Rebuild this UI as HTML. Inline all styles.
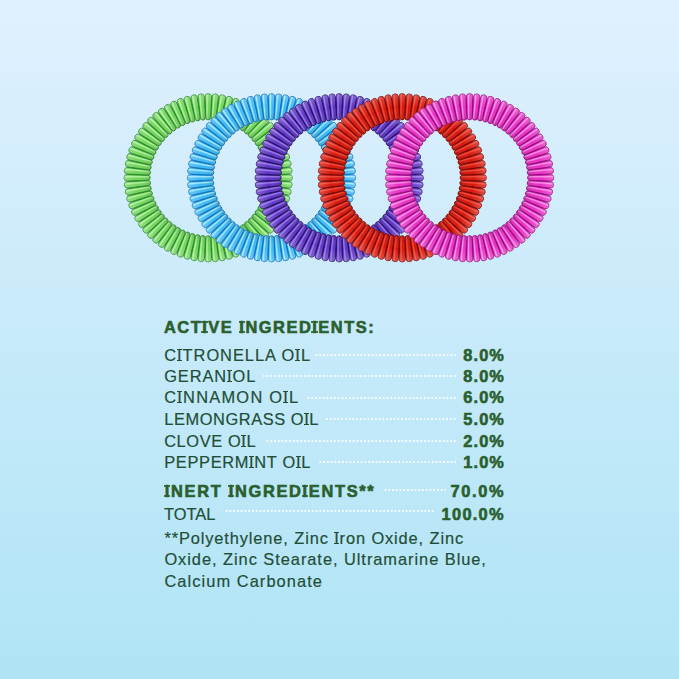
<!DOCTYPE html>
<html><head><meta charset="utf-8"><style>
html,body{margin:0;padding:0;}
body{width:679px;height:679px;overflow:hidden;position:relative;
background:linear-gradient(180deg,#e0f0fe 0%,#c7eafa 50%,#afe4f5 100%);
font-family:"Liberation Sans",sans-serif;}
.t{position:absolute;font-size:16.4px;line-height:16.4px;white-space:nowrap;color:#224e37;-webkit-text-stroke:0.2px #224e37;}
.b{font-weight:bold;color:#2a5f2e;-webkit-text-stroke:0.6px #2a5f2e;}
.I{position:relative;}
.I::before,.I::after{content:"";position:absolute;left:calc(0.139em - 2.6px);width:5.2px;height:1.3px;background:currentColor;}
.I::before{top:var(--st);}
.I::after{top:var(--sb);}
.b .I::before,.b .I::after{left:calc(0.139em - 3.1px);width:6.2px;height:2px;opacity:.85;}
.ld{position:absolute;height:2px;background:radial-gradient(circle at 2.8px 1px,rgba(255,255,255,.8) 0.85px,rgba(255,255,255,0) 1.25px) right center/3.75px 2px repeat-x;}
</style></head><body>
<svg width="679" height="300" viewBox="0 0 679 300" style="position:absolute;left:0;top:0"><defs><linearGradient id="ov" x1="0" y1="0" x2="0" y2="1"><stop offset="0" stop-color="#fff" stop-opacity="0.22"/><stop offset="0.5" stop-color="#fff" stop-opacity="0"/><stop offset="1" stop-color="#000" stop-opacity="0.12"/></linearGradient><linearGradient id="ggA" x1="0" y1="0" x2="1" y2="0"><stop offset="0" stop-color="#2a8a2e"/><stop offset="0.14" stop-color="#72d45c"/><stop offset="0.32" stop-color="#b4f49e"/><stop offset="0.55" stop-color="#72d45c"/><stop offset="0.86" stop-color="#72d45c"/><stop offset="1" stop-color="#2a8a2e"/></linearGradient><linearGradient id="ggB" x1="0" y1="0" x2="1" y2="0"><stop offset="0" stop-color="#2a8a2e"/><stop offset="0.14" stop-color="#72d45c"/><stop offset="0.45" stop-color="#72d45c"/><stop offset="0.68" stop-color="#b4f49e"/><stop offset="0.86" stop-color="#72d45c"/><stop offset="1" stop-color="#2a8a2e"/></linearGradient><linearGradient id="gbA" x1="0" y1="0" x2="1" y2="0"><stop offset="0" stop-color="#1274ba"/><stop offset="0.14" stop-color="#3eb9f5"/><stop offset="0.32" stop-color="#aaecff"/><stop offset="0.55" stop-color="#3eb9f5"/><stop offset="0.86" stop-color="#3eb9f5"/><stop offset="1" stop-color="#1274ba"/></linearGradient><linearGradient id="gbB" x1="0" y1="0" x2="1" y2="0"><stop offset="0" stop-color="#1274ba"/><stop offset="0.14" stop-color="#3eb9f5"/><stop offset="0.45" stop-color="#3eb9f5"/><stop offset="0.68" stop-color="#aaecff"/><stop offset="0.86" stop-color="#3eb9f5"/><stop offset="1" stop-color="#1274ba"/></linearGradient><linearGradient id="gpA" x1="0" y1="0" x2="1" y2="0"><stop offset="0" stop-color="#27106a"/><stop offset="0.14" stop-color="#5f36c4"/><stop offset="0.32" stop-color="#9a7cec"/><stop offset="0.55" stop-color="#5f36c4"/><stop offset="0.86" stop-color="#5f36c4"/><stop offset="1" stop-color="#27106a"/></linearGradient><linearGradient id="gpB" x1="0" y1="0" x2="1" y2="0"><stop offset="0" stop-color="#27106a"/><stop offset="0.14" stop-color="#5f36c4"/><stop offset="0.45" stop-color="#5f36c4"/><stop offset="0.68" stop-color="#9a7cec"/><stop offset="0.86" stop-color="#5f36c4"/><stop offset="1" stop-color="#27106a"/></linearGradient><linearGradient id="grA" x1="0" y1="0" x2="1" y2="0"><stop offset="0" stop-color="#7a0604"/><stop offset="0.14" stop-color="#d8180c"/><stop offset="0.32" stop-color="#f04c3a"/><stop offset="0.55" stop-color="#d8180c"/><stop offset="0.86" stop-color="#d8180c"/><stop offset="1" stop-color="#7a0604"/></linearGradient><linearGradient id="grB" x1="0" y1="0" x2="1" y2="0"><stop offset="0" stop-color="#7a0604"/><stop offset="0.14" stop-color="#d8180c"/><stop offset="0.45" stop-color="#d8180c"/><stop offset="0.68" stop-color="#f04c3a"/><stop offset="0.86" stop-color="#d8180c"/><stop offset="1" stop-color="#7a0604"/></linearGradient><linearGradient id="gkA" x1="0" y1="0" x2="1" y2="0"><stop offset="0" stop-color="#960c7c"/><stop offset="0.14" stop-color="#e832c4"/><stop offset="0.32" stop-color="#fc92ec"/><stop offset="0.55" stop-color="#e832c4"/><stop offset="0.86" stop-color="#e832c4"/><stop offset="1" stop-color="#960c7c"/></linearGradient><linearGradient id="gkB" x1="0" y1="0" x2="1" y2="0"><stop offset="0" stop-color="#960c7c"/><stop offset="0.14" stop-color="#e832c4"/><stop offset="0.45" stop-color="#e832c4"/><stop offset="0.68" stop-color="#fc92ec"/><stop offset="0.86" stop-color="#e832c4"/><stop offset="1" stop-color="#960c7c"/></linearGradient><filter id="bl" x="-5%" y="-5%" width="110%" height="110%"><feGaussianBlur stdDeviation="0.35"/></filter></defs><g filter="url(#bl)"><g transform="translate(208.2,177.8)">
<circle r="71.05" fill="none" stroke="#2a8a2e" stroke-width="17.3"/>
<g transform="rotate(0.00)"><path d="M-3.25,-80.95A3.25,3.25 0 0 1 3.25,-80.95L2.45,-60.35A2.45,2.45 0 0 1 -2.45,-60.35Z" fill="url(#ggA)" stroke="#2a8a2e" stroke-width="0.8"/><path d="M-3.25,-80.95A3.25,3.25 0 0 1 3.25,-80.95L2.45,-60.35A2.45,2.45 0 0 1 -2.45,-60.35Z" fill="url(#ov)"/></g>
<g transform="rotate(5.00)"><path d="M-3.25,-80.95A3.25,3.25 0 0 1 3.25,-80.95L2.45,-60.35A2.45,2.45 0 0 1 -2.45,-60.35Z" fill="url(#ggA)" stroke="#2a8a2e" stroke-width="0.8"/><path d="M-3.25,-80.95A3.25,3.25 0 0 1 3.25,-80.95L2.45,-60.35A2.45,2.45 0 0 1 -2.45,-60.35Z" fill="url(#ov)"/></g>
<g transform="rotate(10.00)"><path d="M-3.25,-80.95A3.25,3.25 0 0 1 3.25,-80.95L2.45,-60.35A2.45,2.45 0 0 1 -2.45,-60.35Z" fill="url(#ggA)" stroke="#2a8a2e" stroke-width="0.8"/><path d="M-3.25,-80.95A3.25,3.25 0 0 1 3.25,-80.95L2.45,-60.35A2.45,2.45 0 0 1 -2.45,-60.35Z" fill="url(#ov)"/></g>
<g transform="rotate(15.00)"><path d="M-3.25,-80.95A3.25,3.25 0 0 1 3.25,-80.95L2.45,-60.35A2.45,2.45 0 0 1 -2.45,-60.35Z" fill="url(#ggA)" stroke="#2a8a2e" stroke-width="0.8"/><path d="M-3.25,-80.95A3.25,3.25 0 0 1 3.25,-80.95L2.45,-60.35A2.45,2.45 0 0 1 -2.45,-60.35Z" fill="url(#ov)"/></g>
<g transform="rotate(20.00)"><path d="M-3.25,-80.95A3.25,3.25 0 0 1 3.25,-80.95L2.45,-60.35A2.45,2.45 0 0 1 -2.45,-60.35Z" fill="url(#ggA)" stroke="#2a8a2e" stroke-width="0.8"/><path d="M-3.25,-80.95A3.25,3.25 0 0 1 3.25,-80.95L2.45,-60.35A2.45,2.45 0 0 1 -2.45,-60.35Z" fill="url(#ov)"/></g>
<g transform="rotate(25.00)"><path d="M-3.25,-80.95A3.25,3.25 0 0 1 3.25,-80.95L2.45,-60.35A2.45,2.45 0 0 1 -2.45,-60.35Z" fill="url(#ggA)" stroke="#2a8a2e" stroke-width="0.8"/><path d="M-3.25,-80.95A3.25,3.25 0 0 1 3.25,-80.95L2.45,-60.35A2.45,2.45 0 0 1 -2.45,-60.35Z" fill="url(#ov)"/></g>
<g transform="rotate(30.00)"><path d="M-3.25,-80.95A3.25,3.25 0 0 1 3.25,-80.95L2.45,-60.35A2.45,2.45 0 0 1 -2.45,-60.35Z" fill="url(#ggA)" stroke="#2a8a2e" stroke-width="0.8"/><path d="M-3.25,-80.95A3.25,3.25 0 0 1 3.25,-80.95L2.45,-60.35A2.45,2.45 0 0 1 -2.45,-60.35Z" fill="url(#ov)"/></g>
<g transform="rotate(35.00)"><path d="M-3.25,-80.95A3.25,3.25 0 0 1 3.25,-80.95L2.45,-60.35A2.45,2.45 0 0 1 -2.45,-60.35Z" fill="url(#ggA)" stroke="#2a8a2e" stroke-width="0.8"/><path d="M-3.25,-80.95A3.25,3.25 0 0 1 3.25,-80.95L2.45,-60.35A2.45,2.45 0 0 1 -2.45,-60.35Z" fill="url(#ov)"/></g>
<g transform="rotate(40.00)"><path d="M-3.25,-80.95A3.25,3.25 0 0 1 3.25,-80.95L2.45,-60.35A2.45,2.45 0 0 1 -2.45,-60.35Z" fill="url(#ggA)" stroke="#2a8a2e" stroke-width="0.8"/><path d="M-3.25,-80.95A3.25,3.25 0 0 1 3.25,-80.95L2.45,-60.35A2.45,2.45 0 0 1 -2.45,-60.35Z" fill="url(#ov)"/></g>
<g transform="rotate(45.00)"><path d="M-3.25,-80.95A3.25,3.25 0 0 1 3.25,-80.95L2.45,-60.35A2.45,2.45 0 0 1 -2.45,-60.35Z" fill="url(#ggA)" stroke="#2a8a2e" stroke-width="0.8"/><path d="M-3.25,-80.95A3.25,3.25 0 0 1 3.25,-80.95L2.45,-60.35A2.45,2.45 0 0 1 -2.45,-60.35Z" fill="url(#ov)"/></g>
<g transform="rotate(50.00)"><path d="M-3.25,-80.95A3.25,3.25 0 0 1 3.25,-80.95L2.45,-60.35A2.45,2.45 0 0 1 -2.45,-60.35Z" fill="url(#ggA)" stroke="#2a8a2e" stroke-width="0.8"/><path d="M-3.25,-80.95A3.25,3.25 0 0 1 3.25,-80.95L2.45,-60.35A2.45,2.45 0 0 1 -2.45,-60.35Z" fill="url(#ov)"/></g>
<g transform="rotate(55.00)"><path d="M-3.25,-80.95A3.25,3.25 0 0 1 3.25,-80.95L2.45,-60.35A2.45,2.45 0 0 1 -2.45,-60.35Z" fill="url(#ggA)" stroke="#2a8a2e" stroke-width="0.8"/><path d="M-3.25,-80.95A3.25,3.25 0 0 1 3.25,-80.95L2.45,-60.35A2.45,2.45 0 0 1 -2.45,-60.35Z" fill="url(#ov)"/></g>
<g transform="rotate(60.00)"><path d="M-3.25,-80.95A3.25,3.25 0 0 1 3.25,-80.95L2.45,-60.35A2.45,2.45 0 0 1 -2.45,-60.35Z" fill="url(#ggA)" stroke="#2a8a2e" stroke-width="0.8"/><path d="M-3.25,-80.95A3.25,3.25 0 0 1 3.25,-80.95L2.45,-60.35A2.45,2.45 0 0 1 -2.45,-60.35Z" fill="url(#ov)"/></g>
<g transform="rotate(65.00)"><path d="M-3.25,-80.95A3.25,3.25 0 0 1 3.25,-80.95L2.45,-60.35A2.45,2.45 0 0 1 -2.45,-60.35Z" fill="url(#ggA)" stroke="#2a8a2e" stroke-width="0.8"/><path d="M-3.25,-80.95A3.25,3.25 0 0 1 3.25,-80.95L2.45,-60.35A2.45,2.45 0 0 1 -2.45,-60.35Z" fill="url(#ov)"/></g>
<g transform="rotate(70.00)"><path d="M-3.25,-80.95A3.25,3.25 0 0 1 3.25,-80.95L2.45,-60.35A2.45,2.45 0 0 1 -2.45,-60.35Z" fill="url(#ggA)" stroke="#2a8a2e" stroke-width="0.8"/><path d="M-3.25,-80.95A3.25,3.25 0 0 1 3.25,-80.95L2.45,-60.35A2.45,2.45 0 0 1 -2.45,-60.35Z" fill="url(#ov)"/></g>
<g transform="rotate(75.00)"><path d="M-3.25,-80.95A3.25,3.25 0 0 1 3.25,-80.95L2.45,-60.35A2.45,2.45 0 0 1 -2.45,-60.35Z" fill="url(#ggA)" stroke="#2a8a2e" stroke-width="0.8"/><path d="M-3.25,-80.95A3.25,3.25 0 0 1 3.25,-80.95L2.45,-60.35A2.45,2.45 0 0 1 -2.45,-60.35Z" fill="url(#ov)"/></g>
<g transform="rotate(80.00)"><path d="M-3.25,-80.95A3.25,3.25 0 0 1 3.25,-80.95L2.45,-60.35A2.45,2.45 0 0 1 -2.45,-60.35Z" fill="url(#ggA)" stroke="#2a8a2e" stroke-width="0.8"/><path d="M-3.25,-80.95A3.25,3.25 0 0 1 3.25,-80.95L2.45,-60.35A2.45,2.45 0 0 1 -2.45,-60.35Z" fill="url(#ov)"/></g>
<g transform="rotate(85.00)"><path d="M-3.25,-80.95A3.25,3.25 0 0 1 3.25,-80.95L2.45,-60.35A2.45,2.45 0 0 1 -2.45,-60.35Z" fill="url(#ggA)" stroke="#2a8a2e" stroke-width="0.8"/><path d="M-3.25,-80.95A3.25,3.25 0 0 1 3.25,-80.95L2.45,-60.35A2.45,2.45 0 0 1 -2.45,-60.35Z" fill="url(#ov)"/></g>
<g transform="rotate(90.00)"><path d="M-3.25,-80.95A3.25,3.25 0 0 1 3.25,-80.95L2.45,-60.35A2.45,2.45 0 0 1 -2.45,-60.35Z" fill="url(#ggA)" stroke="#2a8a2e" stroke-width="0.8"/><path d="M-3.25,-80.95A3.25,3.25 0 0 1 3.25,-80.95L2.45,-60.35A2.45,2.45 0 0 1 -2.45,-60.35Z" fill="url(#ov)"/></g>
<g transform="rotate(95.00)"><path d="M-3.25,-80.95A3.25,3.25 0 0 1 3.25,-80.95L2.45,-60.35A2.45,2.45 0 0 1 -2.45,-60.35Z" fill="url(#ggA)" stroke="#2a8a2e" stroke-width="0.8"/><path d="M-3.25,-80.95A3.25,3.25 0 0 1 3.25,-80.95L2.45,-60.35A2.45,2.45 0 0 1 -2.45,-60.35Z" fill="url(#ov)"/></g>
<g transform="rotate(100.00)"><path d="M-3.25,-80.95A3.25,3.25 0 0 1 3.25,-80.95L2.45,-60.35A2.45,2.45 0 0 1 -2.45,-60.35Z" fill="url(#ggA)" stroke="#2a8a2e" stroke-width="0.8"/><path d="M-3.25,-80.95A3.25,3.25 0 0 1 3.25,-80.95L2.45,-60.35A2.45,2.45 0 0 1 -2.45,-60.35Z" fill="url(#ov)"/></g>
<g transform="rotate(105.00)"><path d="M-3.25,-80.95A3.25,3.25 0 0 1 3.25,-80.95L2.45,-60.35A2.45,2.45 0 0 1 -2.45,-60.35Z" fill="url(#ggA)" stroke="#2a8a2e" stroke-width="0.8"/><path d="M-3.25,-80.95A3.25,3.25 0 0 1 3.25,-80.95L2.45,-60.35A2.45,2.45 0 0 1 -2.45,-60.35Z" fill="url(#ov)"/></g>
<g transform="rotate(110.00)"><path d="M-3.25,-80.95A3.25,3.25 0 0 1 3.25,-80.95L2.45,-60.35A2.45,2.45 0 0 1 -2.45,-60.35Z" fill="url(#ggA)" stroke="#2a8a2e" stroke-width="0.8"/><path d="M-3.25,-80.95A3.25,3.25 0 0 1 3.25,-80.95L2.45,-60.35A2.45,2.45 0 0 1 -2.45,-60.35Z" fill="url(#ov)"/></g>
<g transform="rotate(115.00)"><path d="M-3.25,-80.95A3.25,3.25 0 0 1 3.25,-80.95L2.45,-60.35A2.45,2.45 0 0 1 -2.45,-60.35Z" fill="url(#ggA)" stroke="#2a8a2e" stroke-width="0.8"/><path d="M-3.25,-80.95A3.25,3.25 0 0 1 3.25,-80.95L2.45,-60.35A2.45,2.45 0 0 1 -2.45,-60.35Z" fill="url(#ov)"/></g>
<g transform="rotate(120.00)"><path d="M-3.25,-80.95A3.25,3.25 0 0 1 3.25,-80.95L2.45,-60.35A2.45,2.45 0 0 1 -2.45,-60.35Z" fill="url(#ggA)" stroke="#2a8a2e" stroke-width="0.8"/><path d="M-3.25,-80.95A3.25,3.25 0 0 1 3.25,-80.95L2.45,-60.35A2.45,2.45 0 0 1 -2.45,-60.35Z" fill="url(#ov)"/></g>
<g transform="rotate(125.00)"><path d="M-3.25,-80.95A3.25,3.25 0 0 1 3.25,-80.95L2.45,-60.35A2.45,2.45 0 0 1 -2.45,-60.35Z" fill="url(#ggA)" stroke="#2a8a2e" stroke-width="0.8"/><path d="M-3.25,-80.95A3.25,3.25 0 0 1 3.25,-80.95L2.45,-60.35A2.45,2.45 0 0 1 -2.45,-60.35Z" fill="url(#ov)"/></g>
<g transform="rotate(130.00)"><path d="M-3.25,-80.95A3.25,3.25 0 0 1 3.25,-80.95L2.45,-60.35A2.45,2.45 0 0 1 -2.45,-60.35Z" fill="url(#ggA)" stroke="#2a8a2e" stroke-width="0.8"/><path d="M-3.25,-80.95A3.25,3.25 0 0 1 3.25,-80.95L2.45,-60.35A2.45,2.45 0 0 1 -2.45,-60.35Z" fill="url(#ov)"/></g>
<g transform="rotate(135.00)"><path d="M-3.25,-80.95A3.25,3.25 0 0 1 3.25,-80.95L2.45,-60.35A2.45,2.45 0 0 1 -2.45,-60.35Z" fill="url(#ggA)" stroke="#2a8a2e" stroke-width="0.8"/><path d="M-3.25,-80.95A3.25,3.25 0 0 1 3.25,-80.95L2.45,-60.35A2.45,2.45 0 0 1 -2.45,-60.35Z" fill="url(#ov)"/></g>
<g transform="rotate(140.00)"><path d="M-3.25,-80.95A3.25,3.25 0 0 1 3.25,-80.95L2.45,-60.35A2.45,2.45 0 0 1 -2.45,-60.35Z" fill="url(#ggA)" stroke="#2a8a2e" stroke-width="0.8"/><path d="M-3.25,-80.95A3.25,3.25 0 0 1 3.25,-80.95L2.45,-60.35A2.45,2.45 0 0 1 -2.45,-60.35Z" fill="url(#ov)"/></g>
<g transform="rotate(145.00)"><path d="M-3.25,-80.95A3.25,3.25 0 0 1 3.25,-80.95L2.45,-60.35A2.45,2.45 0 0 1 -2.45,-60.35Z" fill="url(#ggB)" stroke="#2a8a2e" stroke-width="0.8"/><path d="M-3.25,-80.95A3.25,3.25 0 0 1 3.25,-80.95L2.45,-60.35A2.45,2.45 0 0 1 -2.45,-60.35Z" fill="url(#ov)"/></g>
<g transform="rotate(150.00)"><path d="M-3.25,-80.95A3.25,3.25 0 0 1 3.25,-80.95L2.45,-60.35A2.45,2.45 0 0 1 -2.45,-60.35Z" fill="url(#ggB)" stroke="#2a8a2e" stroke-width="0.8"/><path d="M-3.25,-80.95A3.25,3.25 0 0 1 3.25,-80.95L2.45,-60.35A2.45,2.45 0 0 1 -2.45,-60.35Z" fill="url(#ov)"/></g>
<g transform="rotate(155.00)"><path d="M-3.25,-80.95A3.25,3.25 0 0 1 3.25,-80.95L2.45,-60.35A2.45,2.45 0 0 1 -2.45,-60.35Z" fill="url(#ggB)" stroke="#2a8a2e" stroke-width="0.8"/><path d="M-3.25,-80.95A3.25,3.25 0 0 1 3.25,-80.95L2.45,-60.35A2.45,2.45 0 0 1 -2.45,-60.35Z" fill="url(#ov)"/></g>
<g transform="rotate(160.00)"><path d="M-3.25,-80.95A3.25,3.25 0 0 1 3.25,-80.95L2.45,-60.35A2.45,2.45 0 0 1 -2.45,-60.35Z" fill="url(#ggB)" stroke="#2a8a2e" stroke-width="0.8"/><path d="M-3.25,-80.95A3.25,3.25 0 0 1 3.25,-80.95L2.45,-60.35A2.45,2.45 0 0 1 -2.45,-60.35Z" fill="url(#ov)"/></g>
<g transform="rotate(165.00)"><path d="M-3.25,-80.95A3.25,3.25 0 0 1 3.25,-80.95L2.45,-60.35A2.45,2.45 0 0 1 -2.45,-60.35Z" fill="url(#ggB)" stroke="#2a8a2e" stroke-width="0.8"/><path d="M-3.25,-80.95A3.25,3.25 0 0 1 3.25,-80.95L2.45,-60.35A2.45,2.45 0 0 1 -2.45,-60.35Z" fill="url(#ov)"/></g>
<g transform="rotate(170.00)"><path d="M-3.25,-80.95A3.25,3.25 0 0 1 3.25,-80.95L2.45,-60.35A2.45,2.45 0 0 1 -2.45,-60.35Z" fill="url(#ggB)" stroke="#2a8a2e" stroke-width="0.8"/><path d="M-3.25,-80.95A3.25,3.25 0 0 1 3.25,-80.95L2.45,-60.35A2.45,2.45 0 0 1 -2.45,-60.35Z" fill="url(#ov)"/></g>
<g transform="rotate(175.00)"><path d="M-3.25,-80.95A3.25,3.25 0 0 1 3.25,-80.95L2.45,-60.35A2.45,2.45 0 0 1 -2.45,-60.35Z" fill="url(#ggB)" stroke="#2a8a2e" stroke-width="0.8"/><path d="M-3.25,-80.95A3.25,3.25 0 0 1 3.25,-80.95L2.45,-60.35A2.45,2.45 0 0 1 -2.45,-60.35Z" fill="url(#ov)"/></g>
<g transform="rotate(180.00)"><path d="M-3.25,-80.95A3.25,3.25 0 0 1 3.25,-80.95L2.45,-60.35A2.45,2.45 0 0 1 -2.45,-60.35Z" fill="url(#ggB)" stroke="#2a8a2e" stroke-width="0.8"/><path d="M-3.25,-80.95A3.25,3.25 0 0 1 3.25,-80.95L2.45,-60.35A2.45,2.45 0 0 1 -2.45,-60.35Z" fill="url(#ov)"/></g>
<g transform="rotate(185.00)"><path d="M-3.25,-80.95A3.25,3.25 0 0 1 3.25,-80.95L2.45,-60.35A2.45,2.45 0 0 1 -2.45,-60.35Z" fill="url(#ggB)" stroke="#2a8a2e" stroke-width="0.8"/><path d="M-3.25,-80.95A3.25,3.25 0 0 1 3.25,-80.95L2.45,-60.35A2.45,2.45 0 0 1 -2.45,-60.35Z" fill="url(#ov)"/></g>
<g transform="rotate(190.00)"><path d="M-3.25,-80.95A3.25,3.25 0 0 1 3.25,-80.95L2.45,-60.35A2.45,2.45 0 0 1 -2.45,-60.35Z" fill="url(#ggB)" stroke="#2a8a2e" stroke-width="0.8"/><path d="M-3.25,-80.95A3.25,3.25 0 0 1 3.25,-80.95L2.45,-60.35A2.45,2.45 0 0 1 -2.45,-60.35Z" fill="url(#ov)"/></g>
<g transform="rotate(195.00)"><path d="M-3.25,-80.95A3.25,3.25 0 0 1 3.25,-80.95L2.45,-60.35A2.45,2.45 0 0 1 -2.45,-60.35Z" fill="url(#ggB)" stroke="#2a8a2e" stroke-width="0.8"/><path d="M-3.25,-80.95A3.25,3.25 0 0 1 3.25,-80.95L2.45,-60.35A2.45,2.45 0 0 1 -2.45,-60.35Z" fill="url(#ov)"/></g>
<g transform="rotate(200.00)"><path d="M-3.25,-80.95A3.25,3.25 0 0 1 3.25,-80.95L2.45,-60.35A2.45,2.45 0 0 1 -2.45,-60.35Z" fill="url(#ggB)" stroke="#2a8a2e" stroke-width="0.8"/><path d="M-3.25,-80.95A3.25,3.25 0 0 1 3.25,-80.95L2.45,-60.35A2.45,2.45 0 0 1 -2.45,-60.35Z" fill="url(#ov)"/></g>
<g transform="rotate(205.00)"><path d="M-3.25,-80.95A3.25,3.25 0 0 1 3.25,-80.95L2.45,-60.35A2.45,2.45 0 0 1 -2.45,-60.35Z" fill="url(#ggB)" stroke="#2a8a2e" stroke-width="0.8"/><path d="M-3.25,-80.95A3.25,3.25 0 0 1 3.25,-80.95L2.45,-60.35A2.45,2.45 0 0 1 -2.45,-60.35Z" fill="url(#ov)"/></g>
<g transform="rotate(210.00)"><path d="M-3.25,-80.95A3.25,3.25 0 0 1 3.25,-80.95L2.45,-60.35A2.45,2.45 0 0 1 -2.45,-60.35Z" fill="url(#ggB)" stroke="#2a8a2e" stroke-width="0.8"/><path d="M-3.25,-80.95A3.25,3.25 0 0 1 3.25,-80.95L2.45,-60.35A2.45,2.45 0 0 1 -2.45,-60.35Z" fill="url(#ov)"/></g>
<g transform="rotate(215.00)"><path d="M-3.25,-80.95A3.25,3.25 0 0 1 3.25,-80.95L2.45,-60.35A2.45,2.45 0 0 1 -2.45,-60.35Z" fill="url(#ggB)" stroke="#2a8a2e" stroke-width="0.8"/><path d="M-3.25,-80.95A3.25,3.25 0 0 1 3.25,-80.95L2.45,-60.35A2.45,2.45 0 0 1 -2.45,-60.35Z" fill="url(#ov)"/></g>
<g transform="rotate(220.00)"><path d="M-3.25,-80.95A3.25,3.25 0 0 1 3.25,-80.95L2.45,-60.35A2.45,2.45 0 0 1 -2.45,-60.35Z" fill="url(#ggB)" stroke="#2a8a2e" stroke-width="0.8"/><path d="M-3.25,-80.95A3.25,3.25 0 0 1 3.25,-80.95L2.45,-60.35A2.45,2.45 0 0 1 -2.45,-60.35Z" fill="url(#ov)"/></g>
<g transform="rotate(225.00)"><path d="M-3.25,-80.95A3.25,3.25 0 0 1 3.25,-80.95L2.45,-60.35A2.45,2.45 0 0 1 -2.45,-60.35Z" fill="url(#ggB)" stroke="#2a8a2e" stroke-width="0.8"/><path d="M-3.25,-80.95A3.25,3.25 0 0 1 3.25,-80.95L2.45,-60.35A2.45,2.45 0 0 1 -2.45,-60.35Z" fill="url(#ov)"/></g>
<g transform="rotate(230.00)"><path d="M-3.25,-80.95A3.25,3.25 0 0 1 3.25,-80.95L2.45,-60.35A2.45,2.45 0 0 1 -2.45,-60.35Z" fill="url(#ggB)" stroke="#2a8a2e" stroke-width="0.8"/><path d="M-3.25,-80.95A3.25,3.25 0 0 1 3.25,-80.95L2.45,-60.35A2.45,2.45 0 0 1 -2.45,-60.35Z" fill="url(#ov)"/></g>
<g transform="rotate(235.00)"><path d="M-3.25,-80.95A3.25,3.25 0 0 1 3.25,-80.95L2.45,-60.35A2.45,2.45 0 0 1 -2.45,-60.35Z" fill="url(#ggB)" stroke="#2a8a2e" stroke-width="0.8"/><path d="M-3.25,-80.95A3.25,3.25 0 0 1 3.25,-80.95L2.45,-60.35A2.45,2.45 0 0 1 -2.45,-60.35Z" fill="url(#ov)"/></g>
<g transform="rotate(240.00)"><path d="M-3.25,-80.95A3.25,3.25 0 0 1 3.25,-80.95L2.45,-60.35A2.45,2.45 0 0 1 -2.45,-60.35Z" fill="url(#ggB)" stroke="#2a8a2e" stroke-width="0.8"/><path d="M-3.25,-80.95A3.25,3.25 0 0 1 3.25,-80.95L2.45,-60.35A2.45,2.45 0 0 1 -2.45,-60.35Z" fill="url(#ov)"/></g>
<g transform="rotate(245.00)"><path d="M-3.25,-80.95A3.25,3.25 0 0 1 3.25,-80.95L2.45,-60.35A2.45,2.45 0 0 1 -2.45,-60.35Z" fill="url(#ggB)" stroke="#2a8a2e" stroke-width="0.8"/><path d="M-3.25,-80.95A3.25,3.25 0 0 1 3.25,-80.95L2.45,-60.35A2.45,2.45 0 0 1 -2.45,-60.35Z" fill="url(#ov)"/></g>
<g transform="rotate(250.00)"><path d="M-3.25,-80.95A3.25,3.25 0 0 1 3.25,-80.95L2.45,-60.35A2.45,2.45 0 0 1 -2.45,-60.35Z" fill="url(#ggB)" stroke="#2a8a2e" stroke-width="0.8"/><path d="M-3.25,-80.95A3.25,3.25 0 0 1 3.25,-80.95L2.45,-60.35A2.45,2.45 0 0 1 -2.45,-60.35Z" fill="url(#ov)"/></g>
<g transform="rotate(255.00)"><path d="M-3.25,-80.95A3.25,3.25 0 0 1 3.25,-80.95L2.45,-60.35A2.45,2.45 0 0 1 -2.45,-60.35Z" fill="url(#ggB)" stroke="#2a8a2e" stroke-width="0.8"/><path d="M-3.25,-80.95A3.25,3.25 0 0 1 3.25,-80.95L2.45,-60.35A2.45,2.45 0 0 1 -2.45,-60.35Z" fill="url(#ov)"/></g>
<g transform="rotate(260.00)"><path d="M-3.25,-80.95A3.25,3.25 0 0 1 3.25,-80.95L2.45,-60.35A2.45,2.45 0 0 1 -2.45,-60.35Z" fill="url(#ggB)" stroke="#2a8a2e" stroke-width="0.8"/><path d="M-3.25,-80.95A3.25,3.25 0 0 1 3.25,-80.95L2.45,-60.35A2.45,2.45 0 0 1 -2.45,-60.35Z" fill="url(#ov)"/></g>
<g transform="rotate(265.00)"><path d="M-3.25,-80.95A3.25,3.25 0 0 1 3.25,-80.95L2.45,-60.35A2.45,2.45 0 0 1 -2.45,-60.35Z" fill="url(#ggB)" stroke="#2a8a2e" stroke-width="0.8"/><path d="M-3.25,-80.95A3.25,3.25 0 0 1 3.25,-80.95L2.45,-60.35A2.45,2.45 0 0 1 -2.45,-60.35Z" fill="url(#ov)"/></g>
<g transform="rotate(270.00)"><path d="M-3.25,-80.95A3.25,3.25 0 0 1 3.25,-80.95L2.45,-60.35A2.45,2.45 0 0 1 -2.45,-60.35Z" fill="url(#ggB)" stroke="#2a8a2e" stroke-width="0.8"/><path d="M-3.25,-80.95A3.25,3.25 0 0 1 3.25,-80.95L2.45,-60.35A2.45,2.45 0 0 1 -2.45,-60.35Z" fill="url(#ov)"/></g>
<g transform="rotate(275.00)"><path d="M-3.25,-80.95A3.25,3.25 0 0 1 3.25,-80.95L2.45,-60.35A2.45,2.45 0 0 1 -2.45,-60.35Z" fill="url(#ggB)" stroke="#2a8a2e" stroke-width="0.8"/><path d="M-3.25,-80.95A3.25,3.25 0 0 1 3.25,-80.95L2.45,-60.35A2.45,2.45 0 0 1 -2.45,-60.35Z" fill="url(#ov)"/></g>
<g transform="rotate(280.00)"><path d="M-3.25,-80.95A3.25,3.25 0 0 1 3.25,-80.95L2.45,-60.35A2.45,2.45 0 0 1 -2.45,-60.35Z" fill="url(#ggB)" stroke="#2a8a2e" stroke-width="0.8"/><path d="M-3.25,-80.95A3.25,3.25 0 0 1 3.25,-80.95L2.45,-60.35A2.45,2.45 0 0 1 -2.45,-60.35Z" fill="url(#ov)"/></g>
<g transform="rotate(285.00)"><path d="M-3.25,-80.95A3.25,3.25 0 0 1 3.25,-80.95L2.45,-60.35A2.45,2.45 0 0 1 -2.45,-60.35Z" fill="url(#ggB)" stroke="#2a8a2e" stroke-width="0.8"/><path d="M-3.25,-80.95A3.25,3.25 0 0 1 3.25,-80.95L2.45,-60.35A2.45,2.45 0 0 1 -2.45,-60.35Z" fill="url(#ov)"/></g>
<g transform="rotate(290.00)"><path d="M-3.25,-80.95A3.25,3.25 0 0 1 3.25,-80.95L2.45,-60.35A2.45,2.45 0 0 1 -2.45,-60.35Z" fill="url(#ggB)" stroke="#2a8a2e" stroke-width="0.8"/><path d="M-3.25,-80.95A3.25,3.25 0 0 1 3.25,-80.95L2.45,-60.35A2.45,2.45 0 0 1 -2.45,-60.35Z" fill="url(#ov)"/></g>
<g transform="rotate(295.00)"><path d="M-3.25,-80.95A3.25,3.25 0 0 1 3.25,-80.95L2.45,-60.35A2.45,2.45 0 0 1 -2.45,-60.35Z" fill="url(#ggB)" stroke="#2a8a2e" stroke-width="0.8"/><path d="M-3.25,-80.95A3.25,3.25 0 0 1 3.25,-80.95L2.45,-60.35A2.45,2.45 0 0 1 -2.45,-60.35Z" fill="url(#ov)"/></g>
<g transform="rotate(300.00)"><path d="M-3.25,-80.95A3.25,3.25 0 0 1 3.25,-80.95L2.45,-60.35A2.45,2.45 0 0 1 -2.45,-60.35Z" fill="url(#ggB)" stroke="#2a8a2e" stroke-width="0.8"/><path d="M-3.25,-80.95A3.25,3.25 0 0 1 3.25,-80.95L2.45,-60.35A2.45,2.45 0 0 1 -2.45,-60.35Z" fill="url(#ov)"/></g>
<g transform="rotate(305.00)"><path d="M-3.25,-80.95A3.25,3.25 0 0 1 3.25,-80.95L2.45,-60.35A2.45,2.45 0 0 1 -2.45,-60.35Z" fill="url(#ggB)" stroke="#2a8a2e" stroke-width="0.8"/><path d="M-3.25,-80.95A3.25,3.25 0 0 1 3.25,-80.95L2.45,-60.35A2.45,2.45 0 0 1 -2.45,-60.35Z" fill="url(#ov)"/></g>
<g transform="rotate(310.00)"><path d="M-3.25,-80.95A3.25,3.25 0 0 1 3.25,-80.95L2.45,-60.35A2.45,2.45 0 0 1 -2.45,-60.35Z" fill="url(#ggB)" stroke="#2a8a2e" stroke-width="0.8"/><path d="M-3.25,-80.95A3.25,3.25 0 0 1 3.25,-80.95L2.45,-60.35A2.45,2.45 0 0 1 -2.45,-60.35Z" fill="url(#ov)"/></g>
<g transform="rotate(315.00)"><path d="M-3.25,-80.95A3.25,3.25 0 0 1 3.25,-80.95L2.45,-60.35A2.45,2.45 0 0 1 -2.45,-60.35Z" fill="url(#ggB)" stroke="#2a8a2e" stroke-width="0.8"/><path d="M-3.25,-80.95A3.25,3.25 0 0 1 3.25,-80.95L2.45,-60.35A2.45,2.45 0 0 1 -2.45,-60.35Z" fill="url(#ov)"/></g>
<g transform="rotate(320.00)"><path d="M-3.25,-80.95A3.25,3.25 0 0 1 3.25,-80.95L2.45,-60.35A2.45,2.45 0 0 1 -2.45,-60.35Z" fill="url(#ggB)" stroke="#2a8a2e" stroke-width="0.8"/><path d="M-3.25,-80.95A3.25,3.25 0 0 1 3.25,-80.95L2.45,-60.35A2.45,2.45 0 0 1 -2.45,-60.35Z" fill="url(#ov)"/></g>
<g transform="rotate(325.00)"><path d="M-3.25,-80.95A3.25,3.25 0 0 1 3.25,-80.95L2.45,-60.35A2.45,2.45 0 0 1 -2.45,-60.35Z" fill="url(#ggA)" stroke="#2a8a2e" stroke-width="0.8"/><path d="M-3.25,-80.95A3.25,3.25 0 0 1 3.25,-80.95L2.45,-60.35A2.45,2.45 0 0 1 -2.45,-60.35Z" fill="url(#ov)"/></g>
<g transform="rotate(330.00)"><path d="M-3.25,-80.95A3.25,3.25 0 0 1 3.25,-80.95L2.45,-60.35A2.45,2.45 0 0 1 -2.45,-60.35Z" fill="url(#ggA)" stroke="#2a8a2e" stroke-width="0.8"/><path d="M-3.25,-80.95A3.25,3.25 0 0 1 3.25,-80.95L2.45,-60.35A2.45,2.45 0 0 1 -2.45,-60.35Z" fill="url(#ov)"/></g>
<g transform="rotate(335.00)"><path d="M-3.25,-80.95A3.25,3.25 0 0 1 3.25,-80.95L2.45,-60.35A2.45,2.45 0 0 1 -2.45,-60.35Z" fill="url(#ggA)" stroke="#2a8a2e" stroke-width="0.8"/><path d="M-3.25,-80.95A3.25,3.25 0 0 1 3.25,-80.95L2.45,-60.35A2.45,2.45 0 0 1 -2.45,-60.35Z" fill="url(#ov)"/></g>
<g transform="rotate(340.00)"><path d="M-3.25,-80.95A3.25,3.25 0 0 1 3.25,-80.95L2.45,-60.35A2.45,2.45 0 0 1 -2.45,-60.35Z" fill="url(#ggA)" stroke="#2a8a2e" stroke-width="0.8"/><path d="M-3.25,-80.95A3.25,3.25 0 0 1 3.25,-80.95L2.45,-60.35A2.45,2.45 0 0 1 -2.45,-60.35Z" fill="url(#ov)"/></g>
<g transform="rotate(345.00)"><path d="M-3.25,-80.95A3.25,3.25 0 0 1 3.25,-80.95L2.45,-60.35A2.45,2.45 0 0 1 -2.45,-60.35Z" fill="url(#ggA)" stroke="#2a8a2e" stroke-width="0.8"/><path d="M-3.25,-80.95A3.25,3.25 0 0 1 3.25,-80.95L2.45,-60.35A2.45,2.45 0 0 1 -2.45,-60.35Z" fill="url(#ov)"/></g>
<g transform="rotate(350.00)"><path d="M-3.25,-80.95A3.25,3.25 0 0 1 3.25,-80.95L2.45,-60.35A2.45,2.45 0 0 1 -2.45,-60.35Z" fill="url(#ggA)" stroke="#2a8a2e" stroke-width="0.8"/><path d="M-3.25,-80.95A3.25,3.25 0 0 1 3.25,-80.95L2.45,-60.35A2.45,2.45 0 0 1 -2.45,-60.35Z" fill="url(#ov)"/></g>
<g transform="rotate(355.00)"><path d="M-3.25,-80.95A3.25,3.25 0 0 1 3.25,-80.95L2.45,-60.35A2.45,2.45 0 0 1 -2.45,-60.35Z" fill="url(#ggA)" stroke="#2a8a2e" stroke-width="0.8"/><path d="M-3.25,-80.95A3.25,3.25 0 0 1 3.25,-80.95L2.45,-60.35A2.45,2.45 0 0 1 -2.45,-60.35Z" fill="url(#ov)"/></g>
</g><g transform="translate(271.5,177.8)">
<circle r="71.05" fill="none" stroke="#1274ba" stroke-width="17.3"/>
<g transform="rotate(0.00)"><path d="M-3.25,-80.95A3.25,3.25 0 0 1 3.25,-80.95L2.45,-60.35A2.45,2.45 0 0 1 -2.45,-60.35Z" fill="url(#gbA)" stroke="#1274ba" stroke-width="0.8"/><path d="M-3.25,-80.95A3.25,3.25 0 0 1 3.25,-80.95L2.45,-60.35A2.45,2.45 0 0 1 -2.45,-60.35Z" fill="url(#ov)"/></g>
<g transform="rotate(5.00)"><path d="M-3.25,-80.95A3.25,3.25 0 0 1 3.25,-80.95L2.45,-60.35A2.45,2.45 0 0 1 -2.45,-60.35Z" fill="url(#gbA)" stroke="#1274ba" stroke-width="0.8"/><path d="M-3.25,-80.95A3.25,3.25 0 0 1 3.25,-80.95L2.45,-60.35A2.45,2.45 0 0 1 -2.45,-60.35Z" fill="url(#ov)"/></g>
<g transform="rotate(10.00)"><path d="M-3.25,-80.95A3.25,3.25 0 0 1 3.25,-80.95L2.45,-60.35A2.45,2.45 0 0 1 -2.45,-60.35Z" fill="url(#gbA)" stroke="#1274ba" stroke-width="0.8"/><path d="M-3.25,-80.95A3.25,3.25 0 0 1 3.25,-80.95L2.45,-60.35A2.45,2.45 0 0 1 -2.45,-60.35Z" fill="url(#ov)"/></g>
<g transform="rotate(15.00)"><path d="M-3.25,-80.95A3.25,3.25 0 0 1 3.25,-80.95L2.45,-60.35A2.45,2.45 0 0 1 -2.45,-60.35Z" fill="url(#gbA)" stroke="#1274ba" stroke-width="0.8"/><path d="M-3.25,-80.95A3.25,3.25 0 0 1 3.25,-80.95L2.45,-60.35A2.45,2.45 0 0 1 -2.45,-60.35Z" fill="url(#ov)"/></g>
<g transform="rotate(20.00)"><path d="M-3.25,-80.95A3.25,3.25 0 0 1 3.25,-80.95L2.45,-60.35A2.45,2.45 0 0 1 -2.45,-60.35Z" fill="url(#gbA)" stroke="#1274ba" stroke-width="0.8"/><path d="M-3.25,-80.95A3.25,3.25 0 0 1 3.25,-80.95L2.45,-60.35A2.45,2.45 0 0 1 -2.45,-60.35Z" fill="url(#ov)"/></g>
<g transform="rotate(25.00)"><path d="M-3.25,-80.95A3.25,3.25 0 0 1 3.25,-80.95L2.45,-60.35A2.45,2.45 0 0 1 -2.45,-60.35Z" fill="url(#gbA)" stroke="#1274ba" stroke-width="0.8"/><path d="M-3.25,-80.95A3.25,3.25 0 0 1 3.25,-80.95L2.45,-60.35A2.45,2.45 0 0 1 -2.45,-60.35Z" fill="url(#ov)"/></g>
<g transform="rotate(30.00)"><path d="M-3.25,-80.95A3.25,3.25 0 0 1 3.25,-80.95L2.45,-60.35A2.45,2.45 0 0 1 -2.45,-60.35Z" fill="url(#gbA)" stroke="#1274ba" stroke-width="0.8"/><path d="M-3.25,-80.95A3.25,3.25 0 0 1 3.25,-80.95L2.45,-60.35A2.45,2.45 0 0 1 -2.45,-60.35Z" fill="url(#ov)"/></g>
<g transform="rotate(35.00)"><path d="M-3.25,-80.95A3.25,3.25 0 0 1 3.25,-80.95L2.45,-60.35A2.45,2.45 0 0 1 -2.45,-60.35Z" fill="url(#gbA)" stroke="#1274ba" stroke-width="0.8"/><path d="M-3.25,-80.95A3.25,3.25 0 0 1 3.25,-80.95L2.45,-60.35A2.45,2.45 0 0 1 -2.45,-60.35Z" fill="url(#ov)"/></g>
<g transform="rotate(40.00)"><path d="M-3.25,-80.95A3.25,3.25 0 0 1 3.25,-80.95L2.45,-60.35A2.45,2.45 0 0 1 -2.45,-60.35Z" fill="url(#gbA)" stroke="#1274ba" stroke-width="0.8"/><path d="M-3.25,-80.95A3.25,3.25 0 0 1 3.25,-80.95L2.45,-60.35A2.45,2.45 0 0 1 -2.45,-60.35Z" fill="url(#ov)"/></g>
<g transform="rotate(45.00)"><path d="M-3.25,-80.95A3.25,3.25 0 0 1 3.25,-80.95L2.45,-60.35A2.45,2.45 0 0 1 -2.45,-60.35Z" fill="url(#gbA)" stroke="#1274ba" stroke-width="0.8"/><path d="M-3.25,-80.95A3.25,3.25 0 0 1 3.25,-80.95L2.45,-60.35A2.45,2.45 0 0 1 -2.45,-60.35Z" fill="url(#ov)"/></g>
<g transform="rotate(50.00)"><path d="M-3.25,-80.95A3.25,3.25 0 0 1 3.25,-80.95L2.45,-60.35A2.45,2.45 0 0 1 -2.45,-60.35Z" fill="url(#gbA)" stroke="#1274ba" stroke-width="0.8"/><path d="M-3.25,-80.95A3.25,3.25 0 0 1 3.25,-80.95L2.45,-60.35A2.45,2.45 0 0 1 -2.45,-60.35Z" fill="url(#ov)"/></g>
<g transform="rotate(55.00)"><path d="M-3.25,-80.95A3.25,3.25 0 0 1 3.25,-80.95L2.45,-60.35A2.45,2.45 0 0 1 -2.45,-60.35Z" fill="url(#gbA)" stroke="#1274ba" stroke-width="0.8"/><path d="M-3.25,-80.95A3.25,3.25 0 0 1 3.25,-80.95L2.45,-60.35A2.45,2.45 0 0 1 -2.45,-60.35Z" fill="url(#ov)"/></g>
<g transform="rotate(60.00)"><path d="M-3.25,-80.95A3.25,3.25 0 0 1 3.25,-80.95L2.45,-60.35A2.45,2.45 0 0 1 -2.45,-60.35Z" fill="url(#gbA)" stroke="#1274ba" stroke-width="0.8"/><path d="M-3.25,-80.95A3.25,3.25 0 0 1 3.25,-80.95L2.45,-60.35A2.45,2.45 0 0 1 -2.45,-60.35Z" fill="url(#ov)"/></g>
<g transform="rotate(65.00)"><path d="M-3.25,-80.95A3.25,3.25 0 0 1 3.25,-80.95L2.45,-60.35A2.45,2.45 0 0 1 -2.45,-60.35Z" fill="url(#gbA)" stroke="#1274ba" stroke-width="0.8"/><path d="M-3.25,-80.95A3.25,3.25 0 0 1 3.25,-80.95L2.45,-60.35A2.45,2.45 0 0 1 -2.45,-60.35Z" fill="url(#ov)"/></g>
<g transform="rotate(70.00)"><path d="M-3.25,-80.95A3.25,3.25 0 0 1 3.25,-80.95L2.45,-60.35A2.45,2.45 0 0 1 -2.45,-60.35Z" fill="url(#gbA)" stroke="#1274ba" stroke-width="0.8"/><path d="M-3.25,-80.95A3.25,3.25 0 0 1 3.25,-80.95L2.45,-60.35A2.45,2.45 0 0 1 -2.45,-60.35Z" fill="url(#ov)"/></g>
<g transform="rotate(75.00)"><path d="M-3.25,-80.95A3.25,3.25 0 0 1 3.25,-80.95L2.45,-60.35A2.45,2.45 0 0 1 -2.45,-60.35Z" fill="url(#gbA)" stroke="#1274ba" stroke-width="0.8"/><path d="M-3.25,-80.95A3.25,3.25 0 0 1 3.25,-80.95L2.45,-60.35A2.45,2.45 0 0 1 -2.45,-60.35Z" fill="url(#ov)"/></g>
<g transform="rotate(80.00)"><path d="M-3.25,-80.95A3.25,3.25 0 0 1 3.25,-80.95L2.45,-60.35A2.45,2.45 0 0 1 -2.45,-60.35Z" fill="url(#gbA)" stroke="#1274ba" stroke-width="0.8"/><path d="M-3.25,-80.95A3.25,3.25 0 0 1 3.25,-80.95L2.45,-60.35A2.45,2.45 0 0 1 -2.45,-60.35Z" fill="url(#ov)"/></g>
<g transform="rotate(85.00)"><path d="M-3.25,-80.95A3.25,3.25 0 0 1 3.25,-80.95L2.45,-60.35A2.45,2.45 0 0 1 -2.45,-60.35Z" fill="url(#gbA)" stroke="#1274ba" stroke-width="0.8"/><path d="M-3.25,-80.95A3.25,3.25 0 0 1 3.25,-80.95L2.45,-60.35A2.45,2.45 0 0 1 -2.45,-60.35Z" fill="url(#ov)"/></g>
<g transform="rotate(90.00)"><path d="M-3.25,-80.95A3.25,3.25 0 0 1 3.25,-80.95L2.45,-60.35A2.45,2.45 0 0 1 -2.45,-60.35Z" fill="url(#gbA)" stroke="#1274ba" stroke-width="0.8"/><path d="M-3.25,-80.95A3.25,3.25 0 0 1 3.25,-80.95L2.45,-60.35A2.45,2.45 0 0 1 -2.45,-60.35Z" fill="url(#ov)"/></g>
<g transform="rotate(95.00)"><path d="M-3.25,-80.95A3.25,3.25 0 0 1 3.25,-80.95L2.45,-60.35A2.45,2.45 0 0 1 -2.45,-60.35Z" fill="url(#gbA)" stroke="#1274ba" stroke-width="0.8"/><path d="M-3.25,-80.95A3.25,3.25 0 0 1 3.25,-80.95L2.45,-60.35A2.45,2.45 0 0 1 -2.45,-60.35Z" fill="url(#ov)"/></g>
<g transform="rotate(100.00)"><path d="M-3.25,-80.95A3.25,3.25 0 0 1 3.25,-80.95L2.45,-60.35A2.45,2.45 0 0 1 -2.45,-60.35Z" fill="url(#gbA)" stroke="#1274ba" stroke-width="0.8"/><path d="M-3.25,-80.95A3.25,3.25 0 0 1 3.25,-80.95L2.45,-60.35A2.45,2.45 0 0 1 -2.45,-60.35Z" fill="url(#ov)"/></g>
<g transform="rotate(105.00)"><path d="M-3.25,-80.95A3.25,3.25 0 0 1 3.25,-80.95L2.45,-60.35A2.45,2.45 0 0 1 -2.45,-60.35Z" fill="url(#gbA)" stroke="#1274ba" stroke-width="0.8"/><path d="M-3.25,-80.95A3.25,3.25 0 0 1 3.25,-80.95L2.45,-60.35A2.45,2.45 0 0 1 -2.45,-60.35Z" fill="url(#ov)"/></g>
<g transform="rotate(110.00)"><path d="M-3.25,-80.95A3.25,3.25 0 0 1 3.25,-80.95L2.45,-60.35A2.45,2.45 0 0 1 -2.45,-60.35Z" fill="url(#gbA)" stroke="#1274ba" stroke-width="0.8"/><path d="M-3.25,-80.95A3.25,3.25 0 0 1 3.25,-80.95L2.45,-60.35A2.45,2.45 0 0 1 -2.45,-60.35Z" fill="url(#ov)"/></g>
<g transform="rotate(115.00)"><path d="M-3.25,-80.95A3.25,3.25 0 0 1 3.25,-80.95L2.45,-60.35A2.45,2.45 0 0 1 -2.45,-60.35Z" fill="url(#gbA)" stroke="#1274ba" stroke-width="0.8"/><path d="M-3.25,-80.95A3.25,3.25 0 0 1 3.25,-80.95L2.45,-60.35A2.45,2.45 0 0 1 -2.45,-60.35Z" fill="url(#ov)"/></g>
<g transform="rotate(120.00)"><path d="M-3.25,-80.95A3.25,3.25 0 0 1 3.25,-80.95L2.45,-60.35A2.45,2.45 0 0 1 -2.45,-60.35Z" fill="url(#gbA)" stroke="#1274ba" stroke-width="0.8"/><path d="M-3.25,-80.95A3.25,3.25 0 0 1 3.25,-80.95L2.45,-60.35A2.45,2.45 0 0 1 -2.45,-60.35Z" fill="url(#ov)"/></g>
<g transform="rotate(125.00)"><path d="M-3.25,-80.95A3.25,3.25 0 0 1 3.25,-80.95L2.45,-60.35A2.45,2.45 0 0 1 -2.45,-60.35Z" fill="url(#gbA)" stroke="#1274ba" stroke-width="0.8"/><path d="M-3.25,-80.95A3.25,3.25 0 0 1 3.25,-80.95L2.45,-60.35A2.45,2.45 0 0 1 -2.45,-60.35Z" fill="url(#ov)"/></g>
<g transform="rotate(130.00)"><path d="M-3.25,-80.95A3.25,3.25 0 0 1 3.25,-80.95L2.45,-60.35A2.45,2.45 0 0 1 -2.45,-60.35Z" fill="url(#gbA)" stroke="#1274ba" stroke-width="0.8"/><path d="M-3.25,-80.95A3.25,3.25 0 0 1 3.25,-80.95L2.45,-60.35A2.45,2.45 0 0 1 -2.45,-60.35Z" fill="url(#ov)"/></g>
<g transform="rotate(135.00)"><path d="M-3.25,-80.95A3.25,3.25 0 0 1 3.25,-80.95L2.45,-60.35A2.45,2.45 0 0 1 -2.45,-60.35Z" fill="url(#gbA)" stroke="#1274ba" stroke-width="0.8"/><path d="M-3.25,-80.95A3.25,3.25 0 0 1 3.25,-80.95L2.45,-60.35A2.45,2.45 0 0 1 -2.45,-60.35Z" fill="url(#ov)"/></g>
<g transform="rotate(140.00)"><path d="M-3.25,-80.95A3.25,3.25 0 0 1 3.25,-80.95L2.45,-60.35A2.45,2.45 0 0 1 -2.45,-60.35Z" fill="url(#gbA)" stroke="#1274ba" stroke-width="0.8"/><path d="M-3.25,-80.95A3.25,3.25 0 0 1 3.25,-80.95L2.45,-60.35A2.45,2.45 0 0 1 -2.45,-60.35Z" fill="url(#ov)"/></g>
<g transform="rotate(145.00)"><path d="M-3.25,-80.95A3.25,3.25 0 0 1 3.25,-80.95L2.45,-60.35A2.45,2.45 0 0 1 -2.45,-60.35Z" fill="url(#gbB)" stroke="#1274ba" stroke-width="0.8"/><path d="M-3.25,-80.95A3.25,3.25 0 0 1 3.25,-80.95L2.45,-60.35A2.45,2.45 0 0 1 -2.45,-60.35Z" fill="url(#ov)"/></g>
<g transform="rotate(150.00)"><path d="M-3.25,-80.95A3.25,3.25 0 0 1 3.25,-80.95L2.45,-60.35A2.45,2.45 0 0 1 -2.45,-60.35Z" fill="url(#gbB)" stroke="#1274ba" stroke-width="0.8"/><path d="M-3.25,-80.95A3.25,3.25 0 0 1 3.25,-80.95L2.45,-60.35A2.45,2.45 0 0 1 -2.45,-60.35Z" fill="url(#ov)"/></g>
<g transform="rotate(155.00)"><path d="M-3.25,-80.95A3.25,3.25 0 0 1 3.25,-80.95L2.45,-60.35A2.45,2.45 0 0 1 -2.45,-60.35Z" fill="url(#gbB)" stroke="#1274ba" stroke-width="0.8"/><path d="M-3.25,-80.95A3.25,3.25 0 0 1 3.25,-80.95L2.45,-60.35A2.45,2.45 0 0 1 -2.45,-60.35Z" fill="url(#ov)"/></g>
<g transform="rotate(160.00)"><path d="M-3.25,-80.95A3.25,3.25 0 0 1 3.25,-80.95L2.45,-60.35A2.45,2.45 0 0 1 -2.45,-60.35Z" fill="url(#gbB)" stroke="#1274ba" stroke-width="0.8"/><path d="M-3.25,-80.95A3.25,3.25 0 0 1 3.25,-80.95L2.45,-60.35A2.45,2.45 0 0 1 -2.45,-60.35Z" fill="url(#ov)"/></g>
<g transform="rotate(165.00)"><path d="M-3.25,-80.95A3.25,3.25 0 0 1 3.25,-80.95L2.45,-60.35A2.45,2.45 0 0 1 -2.45,-60.35Z" fill="url(#gbB)" stroke="#1274ba" stroke-width="0.8"/><path d="M-3.25,-80.95A3.25,3.25 0 0 1 3.25,-80.95L2.45,-60.35A2.45,2.45 0 0 1 -2.45,-60.35Z" fill="url(#ov)"/></g>
<g transform="rotate(170.00)"><path d="M-3.25,-80.95A3.25,3.25 0 0 1 3.25,-80.95L2.45,-60.35A2.45,2.45 0 0 1 -2.45,-60.35Z" fill="url(#gbB)" stroke="#1274ba" stroke-width="0.8"/><path d="M-3.25,-80.95A3.25,3.25 0 0 1 3.25,-80.95L2.45,-60.35A2.45,2.45 0 0 1 -2.45,-60.35Z" fill="url(#ov)"/></g>
<g transform="rotate(175.00)"><path d="M-3.25,-80.95A3.25,3.25 0 0 1 3.25,-80.95L2.45,-60.35A2.45,2.45 0 0 1 -2.45,-60.35Z" fill="url(#gbB)" stroke="#1274ba" stroke-width="0.8"/><path d="M-3.25,-80.95A3.25,3.25 0 0 1 3.25,-80.95L2.45,-60.35A2.45,2.45 0 0 1 -2.45,-60.35Z" fill="url(#ov)"/></g>
<g transform="rotate(180.00)"><path d="M-3.25,-80.95A3.25,3.25 0 0 1 3.25,-80.95L2.45,-60.35A2.45,2.45 0 0 1 -2.45,-60.35Z" fill="url(#gbB)" stroke="#1274ba" stroke-width="0.8"/><path d="M-3.25,-80.95A3.25,3.25 0 0 1 3.25,-80.95L2.45,-60.35A2.45,2.45 0 0 1 -2.45,-60.35Z" fill="url(#ov)"/></g>
<g transform="rotate(185.00)"><path d="M-3.25,-80.95A3.25,3.25 0 0 1 3.25,-80.95L2.45,-60.35A2.45,2.45 0 0 1 -2.45,-60.35Z" fill="url(#gbB)" stroke="#1274ba" stroke-width="0.8"/><path d="M-3.25,-80.95A3.25,3.25 0 0 1 3.25,-80.95L2.45,-60.35A2.45,2.45 0 0 1 -2.45,-60.35Z" fill="url(#ov)"/></g>
<g transform="rotate(190.00)"><path d="M-3.25,-80.95A3.25,3.25 0 0 1 3.25,-80.95L2.45,-60.35A2.45,2.45 0 0 1 -2.45,-60.35Z" fill="url(#gbB)" stroke="#1274ba" stroke-width="0.8"/><path d="M-3.25,-80.95A3.25,3.25 0 0 1 3.25,-80.95L2.45,-60.35A2.45,2.45 0 0 1 -2.45,-60.35Z" fill="url(#ov)"/></g>
<g transform="rotate(195.00)"><path d="M-3.25,-80.95A3.25,3.25 0 0 1 3.25,-80.95L2.45,-60.35A2.45,2.45 0 0 1 -2.45,-60.35Z" fill="url(#gbB)" stroke="#1274ba" stroke-width="0.8"/><path d="M-3.25,-80.95A3.25,3.25 0 0 1 3.25,-80.95L2.45,-60.35A2.45,2.45 0 0 1 -2.45,-60.35Z" fill="url(#ov)"/></g>
<g transform="rotate(200.00)"><path d="M-3.25,-80.95A3.25,3.25 0 0 1 3.25,-80.95L2.45,-60.35A2.45,2.45 0 0 1 -2.45,-60.35Z" fill="url(#gbB)" stroke="#1274ba" stroke-width="0.8"/><path d="M-3.25,-80.95A3.25,3.25 0 0 1 3.25,-80.95L2.45,-60.35A2.45,2.45 0 0 1 -2.45,-60.35Z" fill="url(#ov)"/></g>
<g transform="rotate(205.00)"><path d="M-3.25,-80.95A3.25,3.25 0 0 1 3.25,-80.95L2.45,-60.35A2.45,2.45 0 0 1 -2.45,-60.35Z" fill="url(#gbB)" stroke="#1274ba" stroke-width="0.8"/><path d="M-3.25,-80.95A3.25,3.25 0 0 1 3.25,-80.95L2.45,-60.35A2.45,2.45 0 0 1 -2.45,-60.35Z" fill="url(#ov)"/></g>
<g transform="rotate(210.00)"><path d="M-3.25,-80.95A3.25,3.25 0 0 1 3.25,-80.95L2.45,-60.35A2.45,2.45 0 0 1 -2.45,-60.35Z" fill="url(#gbB)" stroke="#1274ba" stroke-width="0.8"/><path d="M-3.25,-80.95A3.25,3.25 0 0 1 3.25,-80.95L2.45,-60.35A2.45,2.45 0 0 1 -2.45,-60.35Z" fill="url(#ov)"/></g>
<g transform="rotate(215.00)"><path d="M-3.25,-80.95A3.25,3.25 0 0 1 3.25,-80.95L2.45,-60.35A2.45,2.45 0 0 1 -2.45,-60.35Z" fill="url(#gbB)" stroke="#1274ba" stroke-width="0.8"/><path d="M-3.25,-80.95A3.25,3.25 0 0 1 3.25,-80.95L2.45,-60.35A2.45,2.45 0 0 1 -2.45,-60.35Z" fill="url(#ov)"/></g>
<g transform="rotate(220.00)"><path d="M-3.25,-80.95A3.25,3.25 0 0 1 3.25,-80.95L2.45,-60.35A2.45,2.45 0 0 1 -2.45,-60.35Z" fill="url(#gbB)" stroke="#1274ba" stroke-width="0.8"/><path d="M-3.25,-80.95A3.25,3.25 0 0 1 3.25,-80.95L2.45,-60.35A2.45,2.45 0 0 1 -2.45,-60.35Z" fill="url(#ov)"/></g>
<g transform="rotate(225.00)"><path d="M-3.25,-80.95A3.25,3.25 0 0 1 3.25,-80.95L2.45,-60.35A2.45,2.45 0 0 1 -2.45,-60.35Z" fill="url(#gbB)" stroke="#1274ba" stroke-width="0.8"/><path d="M-3.25,-80.95A3.25,3.25 0 0 1 3.25,-80.95L2.45,-60.35A2.45,2.45 0 0 1 -2.45,-60.35Z" fill="url(#ov)"/></g>
<g transform="rotate(230.00)"><path d="M-3.25,-80.95A3.25,3.25 0 0 1 3.25,-80.95L2.45,-60.35A2.45,2.45 0 0 1 -2.45,-60.35Z" fill="url(#gbB)" stroke="#1274ba" stroke-width="0.8"/><path d="M-3.25,-80.95A3.25,3.25 0 0 1 3.25,-80.95L2.45,-60.35A2.45,2.45 0 0 1 -2.45,-60.35Z" fill="url(#ov)"/></g>
<g transform="rotate(235.00)"><path d="M-3.25,-80.95A3.25,3.25 0 0 1 3.25,-80.95L2.45,-60.35A2.45,2.45 0 0 1 -2.45,-60.35Z" fill="url(#gbB)" stroke="#1274ba" stroke-width="0.8"/><path d="M-3.25,-80.95A3.25,3.25 0 0 1 3.25,-80.95L2.45,-60.35A2.45,2.45 0 0 1 -2.45,-60.35Z" fill="url(#ov)"/></g>
<g transform="rotate(240.00)"><path d="M-3.25,-80.95A3.25,3.25 0 0 1 3.25,-80.95L2.45,-60.35A2.45,2.45 0 0 1 -2.45,-60.35Z" fill="url(#gbB)" stroke="#1274ba" stroke-width="0.8"/><path d="M-3.25,-80.95A3.25,3.25 0 0 1 3.25,-80.95L2.45,-60.35A2.45,2.45 0 0 1 -2.45,-60.35Z" fill="url(#ov)"/></g>
<g transform="rotate(245.00)"><path d="M-3.25,-80.95A3.25,3.25 0 0 1 3.25,-80.95L2.45,-60.35A2.45,2.45 0 0 1 -2.45,-60.35Z" fill="url(#gbB)" stroke="#1274ba" stroke-width="0.8"/><path d="M-3.25,-80.95A3.25,3.25 0 0 1 3.25,-80.95L2.45,-60.35A2.45,2.45 0 0 1 -2.45,-60.35Z" fill="url(#ov)"/></g>
<g transform="rotate(250.00)"><path d="M-3.25,-80.95A3.25,3.25 0 0 1 3.25,-80.95L2.45,-60.35A2.45,2.45 0 0 1 -2.45,-60.35Z" fill="url(#gbB)" stroke="#1274ba" stroke-width="0.8"/><path d="M-3.25,-80.95A3.25,3.25 0 0 1 3.25,-80.95L2.45,-60.35A2.45,2.45 0 0 1 -2.45,-60.35Z" fill="url(#ov)"/></g>
<g transform="rotate(255.00)"><path d="M-3.25,-80.95A3.25,3.25 0 0 1 3.25,-80.95L2.45,-60.35A2.45,2.45 0 0 1 -2.45,-60.35Z" fill="url(#gbB)" stroke="#1274ba" stroke-width="0.8"/><path d="M-3.25,-80.95A3.25,3.25 0 0 1 3.25,-80.95L2.45,-60.35A2.45,2.45 0 0 1 -2.45,-60.35Z" fill="url(#ov)"/></g>
<g transform="rotate(260.00)"><path d="M-3.25,-80.95A3.25,3.25 0 0 1 3.25,-80.95L2.45,-60.35A2.45,2.45 0 0 1 -2.45,-60.35Z" fill="url(#gbB)" stroke="#1274ba" stroke-width="0.8"/><path d="M-3.25,-80.95A3.25,3.25 0 0 1 3.25,-80.95L2.45,-60.35A2.45,2.45 0 0 1 -2.45,-60.35Z" fill="url(#ov)"/></g>
<g transform="rotate(265.00)"><path d="M-3.25,-80.95A3.25,3.25 0 0 1 3.25,-80.95L2.45,-60.35A2.45,2.45 0 0 1 -2.45,-60.35Z" fill="url(#gbB)" stroke="#1274ba" stroke-width="0.8"/><path d="M-3.25,-80.95A3.25,3.25 0 0 1 3.25,-80.95L2.45,-60.35A2.45,2.45 0 0 1 -2.45,-60.35Z" fill="url(#ov)"/></g>
<g transform="rotate(270.00)"><path d="M-3.25,-80.95A3.25,3.25 0 0 1 3.25,-80.95L2.45,-60.35A2.45,2.45 0 0 1 -2.45,-60.35Z" fill="url(#gbB)" stroke="#1274ba" stroke-width="0.8"/><path d="M-3.25,-80.95A3.25,3.25 0 0 1 3.25,-80.95L2.45,-60.35A2.45,2.45 0 0 1 -2.45,-60.35Z" fill="url(#ov)"/></g>
<g transform="rotate(275.00)"><path d="M-3.25,-80.95A3.25,3.25 0 0 1 3.25,-80.95L2.45,-60.35A2.45,2.45 0 0 1 -2.45,-60.35Z" fill="url(#gbB)" stroke="#1274ba" stroke-width="0.8"/><path d="M-3.25,-80.95A3.25,3.25 0 0 1 3.25,-80.95L2.45,-60.35A2.45,2.45 0 0 1 -2.45,-60.35Z" fill="url(#ov)"/></g>
<g transform="rotate(280.00)"><path d="M-3.25,-80.95A3.25,3.25 0 0 1 3.25,-80.95L2.45,-60.35A2.45,2.45 0 0 1 -2.45,-60.35Z" fill="url(#gbB)" stroke="#1274ba" stroke-width="0.8"/><path d="M-3.25,-80.95A3.25,3.25 0 0 1 3.25,-80.95L2.45,-60.35A2.45,2.45 0 0 1 -2.45,-60.35Z" fill="url(#ov)"/></g>
<g transform="rotate(285.00)"><path d="M-3.25,-80.95A3.25,3.25 0 0 1 3.25,-80.95L2.45,-60.35A2.45,2.45 0 0 1 -2.45,-60.35Z" fill="url(#gbB)" stroke="#1274ba" stroke-width="0.8"/><path d="M-3.25,-80.95A3.25,3.25 0 0 1 3.25,-80.95L2.45,-60.35A2.45,2.45 0 0 1 -2.45,-60.35Z" fill="url(#ov)"/></g>
<g transform="rotate(290.00)"><path d="M-3.25,-80.95A3.25,3.25 0 0 1 3.25,-80.95L2.45,-60.35A2.45,2.45 0 0 1 -2.45,-60.35Z" fill="url(#gbB)" stroke="#1274ba" stroke-width="0.8"/><path d="M-3.25,-80.95A3.25,3.25 0 0 1 3.25,-80.95L2.45,-60.35A2.45,2.45 0 0 1 -2.45,-60.35Z" fill="url(#ov)"/></g>
<g transform="rotate(295.00)"><path d="M-3.25,-80.95A3.25,3.25 0 0 1 3.25,-80.95L2.45,-60.35A2.45,2.45 0 0 1 -2.45,-60.35Z" fill="url(#gbB)" stroke="#1274ba" stroke-width="0.8"/><path d="M-3.25,-80.95A3.25,3.25 0 0 1 3.25,-80.95L2.45,-60.35A2.45,2.45 0 0 1 -2.45,-60.35Z" fill="url(#ov)"/></g>
<g transform="rotate(300.00)"><path d="M-3.25,-80.95A3.25,3.25 0 0 1 3.25,-80.95L2.45,-60.35A2.45,2.45 0 0 1 -2.45,-60.35Z" fill="url(#gbB)" stroke="#1274ba" stroke-width="0.8"/><path d="M-3.25,-80.95A3.25,3.25 0 0 1 3.25,-80.95L2.45,-60.35A2.45,2.45 0 0 1 -2.45,-60.35Z" fill="url(#ov)"/></g>
<g transform="rotate(305.00)"><path d="M-3.25,-80.95A3.25,3.25 0 0 1 3.25,-80.95L2.45,-60.35A2.45,2.45 0 0 1 -2.45,-60.35Z" fill="url(#gbB)" stroke="#1274ba" stroke-width="0.8"/><path d="M-3.25,-80.95A3.25,3.25 0 0 1 3.25,-80.95L2.45,-60.35A2.45,2.45 0 0 1 -2.45,-60.35Z" fill="url(#ov)"/></g>
<g transform="rotate(310.00)"><path d="M-3.25,-80.95A3.25,3.25 0 0 1 3.25,-80.95L2.45,-60.35A2.45,2.45 0 0 1 -2.45,-60.35Z" fill="url(#gbB)" stroke="#1274ba" stroke-width="0.8"/><path d="M-3.25,-80.95A3.25,3.25 0 0 1 3.25,-80.95L2.45,-60.35A2.45,2.45 0 0 1 -2.45,-60.35Z" fill="url(#ov)"/></g>
<g transform="rotate(315.00)"><path d="M-3.25,-80.95A3.25,3.25 0 0 1 3.25,-80.95L2.45,-60.35A2.45,2.45 0 0 1 -2.45,-60.35Z" fill="url(#gbB)" stroke="#1274ba" stroke-width="0.8"/><path d="M-3.25,-80.95A3.25,3.25 0 0 1 3.25,-80.95L2.45,-60.35A2.45,2.45 0 0 1 -2.45,-60.35Z" fill="url(#ov)"/></g>
<g transform="rotate(320.00)"><path d="M-3.25,-80.95A3.25,3.25 0 0 1 3.25,-80.95L2.45,-60.35A2.45,2.45 0 0 1 -2.45,-60.35Z" fill="url(#gbB)" stroke="#1274ba" stroke-width="0.8"/><path d="M-3.25,-80.95A3.25,3.25 0 0 1 3.25,-80.95L2.45,-60.35A2.45,2.45 0 0 1 -2.45,-60.35Z" fill="url(#ov)"/></g>
<g transform="rotate(325.00)"><path d="M-3.25,-80.95A3.25,3.25 0 0 1 3.25,-80.95L2.45,-60.35A2.45,2.45 0 0 1 -2.45,-60.35Z" fill="url(#gbA)" stroke="#1274ba" stroke-width="0.8"/><path d="M-3.25,-80.95A3.25,3.25 0 0 1 3.25,-80.95L2.45,-60.35A2.45,2.45 0 0 1 -2.45,-60.35Z" fill="url(#ov)"/></g>
<g transform="rotate(330.00)"><path d="M-3.25,-80.95A3.25,3.25 0 0 1 3.25,-80.95L2.45,-60.35A2.45,2.45 0 0 1 -2.45,-60.35Z" fill="url(#gbA)" stroke="#1274ba" stroke-width="0.8"/><path d="M-3.25,-80.95A3.25,3.25 0 0 1 3.25,-80.95L2.45,-60.35A2.45,2.45 0 0 1 -2.45,-60.35Z" fill="url(#ov)"/></g>
<g transform="rotate(335.00)"><path d="M-3.25,-80.95A3.25,3.25 0 0 1 3.25,-80.95L2.45,-60.35A2.45,2.45 0 0 1 -2.45,-60.35Z" fill="url(#gbA)" stroke="#1274ba" stroke-width="0.8"/><path d="M-3.25,-80.95A3.25,3.25 0 0 1 3.25,-80.95L2.45,-60.35A2.45,2.45 0 0 1 -2.45,-60.35Z" fill="url(#ov)"/></g>
<g transform="rotate(340.00)"><path d="M-3.25,-80.95A3.25,3.25 0 0 1 3.25,-80.95L2.45,-60.35A2.45,2.45 0 0 1 -2.45,-60.35Z" fill="url(#gbA)" stroke="#1274ba" stroke-width="0.8"/><path d="M-3.25,-80.95A3.25,3.25 0 0 1 3.25,-80.95L2.45,-60.35A2.45,2.45 0 0 1 -2.45,-60.35Z" fill="url(#ov)"/></g>
<g transform="rotate(345.00)"><path d="M-3.25,-80.95A3.25,3.25 0 0 1 3.25,-80.95L2.45,-60.35A2.45,2.45 0 0 1 -2.45,-60.35Z" fill="url(#gbA)" stroke="#1274ba" stroke-width="0.8"/><path d="M-3.25,-80.95A3.25,3.25 0 0 1 3.25,-80.95L2.45,-60.35A2.45,2.45 0 0 1 -2.45,-60.35Z" fill="url(#ov)"/></g>
<g transform="rotate(350.00)"><path d="M-3.25,-80.95A3.25,3.25 0 0 1 3.25,-80.95L2.45,-60.35A2.45,2.45 0 0 1 -2.45,-60.35Z" fill="url(#gbA)" stroke="#1274ba" stroke-width="0.8"/><path d="M-3.25,-80.95A3.25,3.25 0 0 1 3.25,-80.95L2.45,-60.35A2.45,2.45 0 0 1 -2.45,-60.35Z" fill="url(#ov)"/></g>
<g transform="rotate(355.00)"><path d="M-3.25,-80.95A3.25,3.25 0 0 1 3.25,-80.95L2.45,-60.35A2.45,2.45 0 0 1 -2.45,-60.35Z" fill="url(#gbA)" stroke="#1274ba" stroke-width="0.8"/><path d="M-3.25,-80.95A3.25,3.25 0 0 1 3.25,-80.95L2.45,-60.35A2.45,2.45 0 0 1 -2.45,-60.35Z" fill="url(#ov)"/></g>
</g><g transform="translate(339.2,177.8)">
<circle r="71.05" fill="none" stroke="#27106a" stroke-width="17.3"/>
<g transform="rotate(0.00)"><path d="M-3.25,-80.95A3.25,3.25 0 0 1 3.25,-80.95L2.45,-60.35A2.45,2.45 0 0 1 -2.45,-60.35Z" fill="url(#gpA)" stroke="#27106a" stroke-width="0.8"/><path d="M-3.25,-80.95A3.25,3.25 0 0 1 3.25,-80.95L2.45,-60.35A2.45,2.45 0 0 1 -2.45,-60.35Z" fill="url(#ov)"/></g>
<g transform="rotate(5.00)"><path d="M-3.25,-80.95A3.25,3.25 0 0 1 3.25,-80.95L2.45,-60.35A2.45,2.45 0 0 1 -2.45,-60.35Z" fill="url(#gpA)" stroke="#27106a" stroke-width="0.8"/><path d="M-3.25,-80.95A3.25,3.25 0 0 1 3.25,-80.95L2.45,-60.35A2.45,2.45 0 0 1 -2.45,-60.35Z" fill="url(#ov)"/></g>
<g transform="rotate(10.00)"><path d="M-3.25,-80.95A3.25,3.25 0 0 1 3.25,-80.95L2.45,-60.35A2.45,2.45 0 0 1 -2.45,-60.35Z" fill="url(#gpA)" stroke="#27106a" stroke-width="0.8"/><path d="M-3.25,-80.95A3.25,3.25 0 0 1 3.25,-80.95L2.45,-60.35A2.45,2.45 0 0 1 -2.45,-60.35Z" fill="url(#ov)"/></g>
<g transform="rotate(15.00)"><path d="M-3.25,-80.95A3.25,3.25 0 0 1 3.25,-80.95L2.45,-60.35A2.45,2.45 0 0 1 -2.45,-60.35Z" fill="url(#gpA)" stroke="#27106a" stroke-width="0.8"/><path d="M-3.25,-80.95A3.25,3.25 0 0 1 3.25,-80.95L2.45,-60.35A2.45,2.45 0 0 1 -2.45,-60.35Z" fill="url(#ov)"/></g>
<g transform="rotate(20.00)"><path d="M-3.25,-80.95A3.25,3.25 0 0 1 3.25,-80.95L2.45,-60.35A2.45,2.45 0 0 1 -2.45,-60.35Z" fill="url(#gpA)" stroke="#27106a" stroke-width="0.8"/><path d="M-3.25,-80.95A3.25,3.25 0 0 1 3.25,-80.95L2.45,-60.35A2.45,2.45 0 0 1 -2.45,-60.35Z" fill="url(#ov)"/></g>
<g transform="rotate(25.00)"><path d="M-3.25,-80.95A3.25,3.25 0 0 1 3.25,-80.95L2.45,-60.35A2.45,2.45 0 0 1 -2.45,-60.35Z" fill="url(#gpA)" stroke="#27106a" stroke-width="0.8"/><path d="M-3.25,-80.95A3.25,3.25 0 0 1 3.25,-80.95L2.45,-60.35A2.45,2.45 0 0 1 -2.45,-60.35Z" fill="url(#ov)"/></g>
<g transform="rotate(30.00)"><path d="M-3.25,-80.95A3.25,3.25 0 0 1 3.25,-80.95L2.45,-60.35A2.45,2.45 0 0 1 -2.45,-60.35Z" fill="url(#gpA)" stroke="#27106a" stroke-width="0.8"/><path d="M-3.25,-80.95A3.25,3.25 0 0 1 3.25,-80.95L2.45,-60.35A2.45,2.45 0 0 1 -2.45,-60.35Z" fill="url(#ov)"/></g>
<g transform="rotate(35.00)"><path d="M-3.25,-80.95A3.25,3.25 0 0 1 3.25,-80.95L2.45,-60.35A2.45,2.45 0 0 1 -2.45,-60.35Z" fill="url(#gpA)" stroke="#27106a" stroke-width="0.8"/><path d="M-3.25,-80.95A3.25,3.25 0 0 1 3.25,-80.95L2.45,-60.35A2.45,2.45 0 0 1 -2.45,-60.35Z" fill="url(#ov)"/></g>
<g transform="rotate(40.00)"><path d="M-3.25,-80.95A3.25,3.25 0 0 1 3.25,-80.95L2.45,-60.35A2.45,2.45 0 0 1 -2.45,-60.35Z" fill="url(#gpA)" stroke="#27106a" stroke-width="0.8"/><path d="M-3.25,-80.95A3.25,3.25 0 0 1 3.25,-80.95L2.45,-60.35A2.45,2.45 0 0 1 -2.45,-60.35Z" fill="url(#ov)"/></g>
<g transform="rotate(45.00)"><path d="M-3.25,-80.95A3.25,3.25 0 0 1 3.25,-80.95L2.45,-60.35A2.45,2.45 0 0 1 -2.45,-60.35Z" fill="url(#gpA)" stroke="#27106a" stroke-width="0.8"/><path d="M-3.25,-80.95A3.25,3.25 0 0 1 3.25,-80.95L2.45,-60.35A2.45,2.45 0 0 1 -2.45,-60.35Z" fill="url(#ov)"/></g>
<g transform="rotate(50.00)"><path d="M-3.25,-80.95A3.25,3.25 0 0 1 3.25,-80.95L2.45,-60.35A2.45,2.45 0 0 1 -2.45,-60.35Z" fill="url(#gpA)" stroke="#27106a" stroke-width="0.8"/><path d="M-3.25,-80.95A3.25,3.25 0 0 1 3.25,-80.95L2.45,-60.35A2.45,2.45 0 0 1 -2.45,-60.35Z" fill="url(#ov)"/></g>
<g transform="rotate(55.00)"><path d="M-3.25,-80.95A3.25,3.25 0 0 1 3.25,-80.95L2.45,-60.35A2.45,2.45 0 0 1 -2.45,-60.35Z" fill="url(#gpA)" stroke="#27106a" stroke-width="0.8"/><path d="M-3.25,-80.95A3.25,3.25 0 0 1 3.25,-80.95L2.45,-60.35A2.45,2.45 0 0 1 -2.45,-60.35Z" fill="url(#ov)"/></g>
<g transform="rotate(60.00)"><path d="M-3.25,-80.95A3.25,3.25 0 0 1 3.25,-80.95L2.45,-60.35A2.45,2.45 0 0 1 -2.45,-60.35Z" fill="url(#gpA)" stroke="#27106a" stroke-width="0.8"/><path d="M-3.25,-80.95A3.25,3.25 0 0 1 3.25,-80.95L2.45,-60.35A2.45,2.45 0 0 1 -2.45,-60.35Z" fill="url(#ov)"/></g>
<g transform="rotate(65.00)"><path d="M-3.25,-80.95A3.25,3.25 0 0 1 3.25,-80.95L2.45,-60.35A2.45,2.45 0 0 1 -2.45,-60.35Z" fill="url(#gpA)" stroke="#27106a" stroke-width="0.8"/><path d="M-3.25,-80.95A3.25,3.25 0 0 1 3.25,-80.95L2.45,-60.35A2.45,2.45 0 0 1 -2.45,-60.35Z" fill="url(#ov)"/></g>
<g transform="rotate(70.00)"><path d="M-3.25,-80.95A3.25,3.25 0 0 1 3.25,-80.95L2.45,-60.35A2.45,2.45 0 0 1 -2.45,-60.35Z" fill="url(#gpA)" stroke="#27106a" stroke-width="0.8"/><path d="M-3.25,-80.95A3.25,3.25 0 0 1 3.25,-80.95L2.45,-60.35A2.45,2.45 0 0 1 -2.45,-60.35Z" fill="url(#ov)"/></g>
<g transform="rotate(75.00)"><path d="M-3.25,-80.95A3.25,3.25 0 0 1 3.25,-80.95L2.45,-60.35A2.45,2.45 0 0 1 -2.45,-60.35Z" fill="url(#gpA)" stroke="#27106a" stroke-width="0.8"/><path d="M-3.25,-80.95A3.25,3.25 0 0 1 3.25,-80.95L2.45,-60.35A2.45,2.45 0 0 1 -2.45,-60.35Z" fill="url(#ov)"/></g>
<g transform="rotate(80.00)"><path d="M-3.25,-80.95A3.25,3.25 0 0 1 3.25,-80.95L2.45,-60.35A2.45,2.45 0 0 1 -2.45,-60.35Z" fill="url(#gpA)" stroke="#27106a" stroke-width="0.8"/><path d="M-3.25,-80.95A3.25,3.25 0 0 1 3.25,-80.95L2.45,-60.35A2.45,2.45 0 0 1 -2.45,-60.35Z" fill="url(#ov)"/></g>
<g transform="rotate(85.00)"><path d="M-3.25,-80.95A3.25,3.25 0 0 1 3.25,-80.95L2.45,-60.35A2.45,2.45 0 0 1 -2.45,-60.35Z" fill="url(#gpA)" stroke="#27106a" stroke-width="0.8"/><path d="M-3.25,-80.95A3.25,3.25 0 0 1 3.25,-80.95L2.45,-60.35A2.45,2.45 0 0 1 -2.45,-60.35Z" fill="url(#ov)"/></g>
<g transform="rotate(90.00)"><path d="M-3.25,-80.95A3.25,3.25 0 0 1 3.25,-80.95L2.45,-60.35A2.45,2.45 0 0 1 -2.45,-60.35Z" fill="url(#gpA)" stroke="#27106a" stroke-width="0.8"/><path d="M-3.25,-80.95A3.25,3.25 0 0 1 3.25,-80.95L2.45,-60.35A2.45,2.45 0 0 1 -2.45,-60.35Z" fill="url(#ov)"/></g>
<g transform="rotate(95.00)"><path d="M-3.25,-80.95A3.25,3.25 0 0 1 3.25,-80.95L2.45,-60.35A2.45,2.45 0 0 1 -2.45,-60.35Z" fill="url(#gpA)" stroke="#27106a" stroke-width="0.8"/><path d="M-3.25,-80.95A3.25,3.25 0 0 1 3.25,-80.95L2.45,-60.35A2.45,2.45 0 0 1 -2.45,-60.35Z" fill="url(#ov)"/></g>
<g transform="rotate(100.00)"><path d="M-3.25,-80.95A3.25,3.25 0 0 1 3.25,-80.95L2.45,-60.35A2.45,2.45 0 0 1 -2.45,-60.35Z" fill="url(#gpA)" stroke="#27106a" stroke-width="0.8"/><path d="M-3.25,-80.95A3.25,3.25 0 0 1 3.25,-80.95L2.45,-60.35A2.45,2.45 0 0 1 -2.45,-60.35Z" fill="url(#ov)"/></g>
<g transform="rotate(105.00)"><path d="M-3.25,-80.95A3.25,3.25 0 0 1 3.25,-80.95L2.45,-60.35A2.45,2.45 0 0 1 -2.45,-60.35Z" fill="url(#gpA)" stroke="#27106a" stroke-width="0.8"/><path d="M-3.25,-80.95A3.25,3.25 0 0 1 3.25,-80.95L2.45,-60.35A2.45,2.45 0 0 1 -2.45,-60.35Z" fill="url(#ov)"/></g>
<g transform="rotate(110.00)"><path d="M-3.25,-80.95A3.25,3.25 0 0 1 3.25,-80.95L2.45,-60.35A2.45,2.45 0 0 1 -2.45,-60.35Z" fill="url(#gpA)" stroke="#27106a" stroke-width="0.8"/><path d="M-3.25,-80.95A3.25,3.25 0 0 1 3.25,-80.95L2.45,-60.35A2.45,2.45 0 0 1 -2.45,-60.35Z" fill="url(#ov)"/></g>
<g transform="rotate(115.00)"><path d="M-3.25,-80.95A3.25,3.25 0 0 1 3.25,-80.95L2.45,-60.35A2.45,2.45 0 0 1 -2.45,-60.35Z" fill="url(#gpA)" stroke="#27106a" stroke-width="0.8"/><path d="M-3.25,-80.95A3.25,3.25 0 0 1 3.25,-80.95L2.45,-60.35A2.45,2.45 0 0 1 -2.45,-60.35Z" fill="url(#ov)"/></g>
<g transform="rotate(120.00)"><path d="M-3.25,-80.95A3.25,3.25 0 0 1 3.25,-80.95L2.45,-60.35A2.45,2.45 0 0 1 -2.45,-60.35Z" fill="url(#gpA)" stroke="#27106a" stroke-width="0.8"/><path d="M-3.25,-80.95A3.25,3.25 0 0 1 3.25,-80.95L2.45,-60.35A2.45,2.45 0 0 1 -2.45,-60.35Z" fill="url(#ov)"/></g>
<g transform="rotate(125.00)"><path d="M-3.25,-80.95A3.25,3.25 0 0 1 3.25,-80.95L2.45,-60.35A2.45,2.45 0 0 1 -2.45,-60.35Z" fill="url(#gpA)" stroke="#27106a" stroke-width="0.8"/><path d="M-3.25,-80.95A3.25,3.25 0 0 1 3.25,-80.95L2.45,-60.35A2.45,2.45 0 0 1 -2.45,-60.35Z" fill="url(#ov)"/></g>
<g transform="rotate(130.00)"><path d="M-3.25,-80.95A3.25,3.25 0 0 1 3.25,-80.95L2.45,-60.35A2.45,2.45 0 0 1 -2.45,-60.35Z" fill="url(#gpA)" stroke="#27106a" stroke-width="0.8"/><path d="M-3.25,-80.95A3.25,3.25 0 0 1 3.25,-80.95L2.45,-60.35A2.45,2.45 0 0 1 -2.45,-60.35Z" fill="url(#ov)"/></g>
<g transform="rotate(135.00)"><path d="M-3.25,-80.95A3.25,3.25 0 0 1 3.25,-80.95L2.45,-60.35A2.45,2.45 0 0 1 -2.45,-60.35Z" fill="url(#gpA)" stroke="#27106a" stroke-width="0.8"/><path d="M-3.25,-80.95A3.25,3.25 0 0 1 3.25,-80.95L2.45,-60.35A2.45,2.45 0 0 1 -2.45,-60.35Z" fill="url(#ov)"/></g>
<g transform="rotate(140.00)"><path d="M-3.25,-80.95A3.25,3.25 0 0 1 3.25,-80.95L2.45,-60.35A2.45,2.45 0 0 1 -2.45,-60.35Z" fill="url(#gpA)" stroke="#27106a" stroke-width="0.8"/><path d="M-3.25,-80.95A3.25,3.25 0 0 1 3.25,-80.95L2.45,-60.35A2.45,2.45 0 0 1 -2.45,-60.35Z" fill="url(#ov)"/></g>
<g transform="rotate(145.00)"><path d="M-3.25,-80.95A3.25,3.25 0 0 1 3.25,-80.95L2.45,-60.35A2.45,2.45 0 0 1 -2.45,-60.35Z" fill="url(#gpB)" stroke="#27106a" stroke-width="0.8"/><path d="M-3.25,-80.95A3.25,3.25 0 0 1 3.25,-80.95L2.45,-60.35A2.45,2.45 0 0 1 -2.45,-60.35Z" fill="url(#ov)"/></g>
<g transform="rotate(150.00)"><path d="M-3.25,-80.95A3.25,3.25 0 0 1 3.25,-80.95L2.45,-60.35A2.45,2.45 0 0 1 -2.45,-60.35Z" fill="url(#gpB)" stroke="#27106a" stroke-width="0.8"/><path d="M-3.25,-80.95A3.25,3.25 0 0 1 3.25,-80.95L2.45,-60.35A2.45,2.45 0 0 1 -2.45,-60.35Z" fill="url(#ov)"/></g>
<g transform="rotate(155.00)"><path d="M-3.25,-80.95A3.25,3.25 0 0 1 3.25,-80.95L2.45,-60.35A2.45,2.45 0 0 1 -2.45,-60.35Z" fill="url(#gpB)" stroke="#27106a" stroke-width="0.8"/><path d="M-3.25,-80.95A3.25,3.25 0 0 1 3.25,-80.95L2.45,-60.35A2.45,2.45 0 0 1 -2.45,-60.35Z" fill="url(#ov)"/></g>
<g transform="rotate(160.00)"><path d="M-3.25,-80.95A3.25,3.25 0 0 1 3.25,-80.95L2.45,-60.35A2.45,2.45 0 0 1 -2.45,-60.35Z" fill="url(#gpB)" stroke="#27106a" stroke-width="0.8"/><path d="M-3.25,-80.95A3.25,3.25 0 0 1 3.25,-80.95L2.45,-60.35A2.45,2.45 0 0 1 -2.45,-60.35Z" fill="url(#ov)"/></g>
<g transform="rotate(165.00)"><path d="M-3.25,-80.95A3.25,3.25 0 0 1 3.25,-80.95L2.45,-60.35A2.45,2.45 0 0 1 -2.45,-60.35Z" fill="url(#gpB)" stroke="#27106a" stroke-width="0.8"/><path d="M-3.25,-80.95A3.25,3.25 0 0 1 3.25,-80.95L2.45,-60.35A2.45,2.45 0 0 1 -2.45,-60.35Z" fill="url(#ov)"/></g>
<g transform="rotate(170.00)"><path d="M-3.25,-80.95A3.25,3.25 0 0 1 3.25,-80.95L2.45,-60.35A2.45,2.45 0 0 1 -2.45,-60.35Z" fill="url(#gpB)" stroke="#27106a" stroke-width="0.8"/><path d="M-3.25,-80.95A3.25,3.25 0 0 1 3.25,-80.95L2.45,-60.35A2.45,2.45 0 0 1 -2.45,-60.35Z" fill="url(#ov)"/></g>
<g transform="rotate(175.00)"><path d="M-3.25,-80.95A3.25,3.25 0 0 1 3.25,-80.95L2.45,-60.35A2.45,2.45 0 0 1 -2.45,-60.35Z" fill="url(#gpB)" stroke="#27106a" stroke-width="0.8"/><path d="M-3.25,-80.95A3.25,3.25 0 0 1 3.25,-80.95L2.45,-60.35A2.45,2.45 0 0 1 -2.45,-60.35Z" fill="url(#ov)"/></g>
<g transform="rotate(180.00)"><path d="M-3.25,-80.95A3.25,3.25 0 0 1 3.25,-80.95L2.45,-60.35A2.45,2.45 0 0 1 -2.45,-60.35Z" fill="url(#gpB)" stroke="#27106a" stroke-width="0.8"/><path d="M-3.25,-80.95A3.25,3.25 0 0 1 3.25,-80.95L2.45,-60.35A2.45,2.45 0 0 1 -2.45,-60.35Z" fill="url(#ov)"/></g>
<g transform="rotate(185.00)"><path d="M-3.25,-80.95A3.25,3.25 0 0 1 3.25,-80.95L2.45,-60.35A2.45,2.45 0 0 1 -2.45,-60.35Z" fill="url(#gpB)" stroke="#27106a" stroke-width="0.8"/><path d="M-3.25,-80.95A3.25,3.25 0 0 1 3.25,-80.95L2.45,-60.35A2.45,2.45 0 0 1 -2.45,-60.35Z" fill="url(#ov)"/></g>
<g transform="rotate(190.00)"><path d="M-3.25,-80.95A3.25,3.25 0 0 1 3.25,-80.95L2.45,-60.35A2.45,2.45 0 0 1 -2.45,-60.35Z" fill="url(#gpB)" stroke="#27106a" stroke-width="0.8"/><path d="M-3.25,-80.95A3.25,3.25 0 0 1 3.25,-80.95L2.45,-60.35A2.45,2.45 0 0 1 -2.45,-60.35Z" fill="url(#ov)"/></g>
<g transform="rotate(195.00)"><path d="M-3.25,-80.95A3.25,3.25 0 0 1 3.25,-80.95L2.45,-60.35A2.45,2.45 0 0 1 -2.45,-60.35Z" fill="url(#gpB)" stroke="#27106a" stroke-width="0.8"/><path d="M-3.25,-80.95A3.25,3.25 0 0 1 3.25,-80.95L2.45,-60.35A2.45,2.45 0 0 1 -2.45,-60.35Z" fill="url(#ov)"/></g>
<g transform="rotate(200.00)"><path d="M-3.25,-80.95A3.25,3.25 0 0 1 3.25,-80.95L2.45,-60.35A2.45,2.45 0 0 1 -2.45,-60.35Z" fill="url(#gpB)" stroke="#27106a" stroke-width="0.8"/><path d="M-3.25,-80.95A3.25,3.25 0 0 1 3.25,-80.95L2.45,-60.35A2.45,2.45 0 0 1 -2.45,-60.35Z" fill="url(#ov)"/></g>
<g transform="rotate(205.00)"><path d="M-3.25,-80.95A3.25,3.25 0 0 1 3.25,-80.95L2.45,-60.35A2.45,2.45 0 0 1 -2.45,-60.35Z" fill="url(#gpB)" stroke="#27106a" stroke-width="0.8"/><path d="M-3.25,-80.95A3.25,3.25 0 0 1 3.25,-80.95L2.45,-60.35A2.45,2.45 0 0 1 -2.45,-60.35Z" fill="url(#ov)"/></g>
<g transform="rotate(210.00)"><path d="M-3.25,-80.95A3.25,3.25 0 0 1 3.25,-80.95L2.45,-60.35A2.45,2.45 0 0 1 -2.45,-60.35Z" fill="url(#gpB)" stroke="#27106a" stroke-width="0.8"/><path d="M-3.25,-80.95A3.25,3.25 0 0 1 3.25,-80.95L2.45,-60.35A2.45,2.45 0 0 1 -2.45,-60.35Z" fill="url(#ov)"/></g>
<g transform="rotate(215.00)"><path d="M-3.25,-80.95A3.25,3.25 0 0 1 3.25,-80.95L2.45,-60.35A2.45,2.45 0 0 1 -2.45,-60.35Z" fill="url(#gpB)" stroke="#27106a" stroke-width="0.8"/><path d="M-3.25,-80.95A3.25,3.25 0 0 1 3.25,-80.95L2.45,-60.35A2.45,2.45 0 0 1 -2.45,-60.35Z" fill="url(#ov)"/></g>
<g transform="rotate(220.00)"><path d="M-3.25,-80.95A3.25,3.25 0 0 1 3.25,-80.95L2.45,-60.35A2.45,2.45 0 0 1 -2.45,-60.35Z" fill="url(#gpB)" stroke="#27106a" stroke-width="0.8"/><path d="M-3.25,-80.95A3.25,3.25 0 0 1 3.25,-80.95L2.45,-60.35A2.45,2.45 0 0 1 -2.45,-60.35Z" fill="url(#ov)"/></g>
<g transform="rotate(225.00)"><path d="M-3.25,-80.95A3.25,3.25 0 0 1 3.25,-80.95L2.45,-60.35A2.45,2.45 0 0 1 -2.45,-60.35Z" fill="url(#gpB)" stroke="#27106a" stroke-width="0.8"/><path d="M-3.25,-80.95A3.25,3.25 0 0 1 3.25,-80.95L2.45,-60.35A2.45,2.45 0 0 1 -2.45,-60.35Z" fill="url(#ov)"/></g>
<g transform="rotate(230.00)"><path d="M-3.25,-80.95A3.25,3.25 0 0 1 3.25,-80.95L2.45,-60.35A2.45,2.45 0 0 1 -2.45,-60.35Z" fill="url(#gpB)" stroke="#27106a" stroke-width="0.8"/><path d="M-3.25,-80.95A3.25,3.25 0 0 1 3.25,-80.95L2.45,-60.35A2.45,2.45 0 0 1 -2.45,-60.35Z" fill="url(#ov)"/></g>
<g transform="rotate(235.00)"><path d="M-3.25,-80.95A3.25,3.25 0 0 1 3.25,-80.95L2.45,-60.35A2.45,2.45 0 0 1 -2.45,-60.35Z" fill="url(#gpB)" stroke="#27106a" stroke-width="0.8"/><path d="M-3.25,-80.95A3.25,3.25 0 0 1 3.25,-80.95L2.45,-60.35A2.45,2.45 0 0 1 -2.45,-60.35Z" fill="url(#ov)"/></g>
<g transform="rotate(240.00)"><path d="M-3.25,-80.95A3.25,3.25 0 0 1 3.25,-80.95L2.45,-60.35A2.45,2.45 0 0 1 -2.45,-60.35Z" fill="url(#gpB)" stroke="#27106a" stroke-width="0.8"/><path d="M-3.25,-80.95A3.25,3.25 0 0 1 3.25,-80.95L2.45,-60.35A2.45,2.45 0 0 1 -2.45,-60.35Z" fill="url(#ov)"/></g>
<g transform="rotate(245.00)"><path d="M-3.25,-80.95A3.25,3.25 0 0 1 3.25,-80.95L2.45,-60.35A2.45,2.45 0 0 1 -2.45,-60.35Z" fill="url(#gpB)" stroke="#27106a" stroke-width="0.8"/><path d="M-3.25,-80.95A3.25,3.25 0 0 1 3.25,-80.95L2.45,-60.35A2.45,2.45 0 0 1 -2.45,-60.35Z" fill="url(#ov)"/></g>
<g transform="rotate(250.00)"><path d="M-3.25,-80.95A3.25,3.25 0 0 1 3.25,-80.95L2.45,-60.35A2.45,2.45 0 0 1 -2.45,-60.35Z" fill="url(#gpB)" stroke="#27106a" stroke-width="0.8"/><path d="M-3.25,-80.95A3.25,3.25 0 0 1 3.25,-80.95L2.45,-60.35A2.45,2.45 0 0 1 -2.45,-60.35Z" fill="url(#ov)"/></g>
<g transform="rotate(255.00)"><path d="M-3.25,-80.95A3.25,3.25 0 0 1 3.25,-80.95L2.45,-60.35A2.45,2.45 0 0 1 -2.45,-60.35Z" fill="url(#gpB)" stroke="#27106a" stroke-width="0.8"/><path d="M-3.25,-80.95A3.25,3.25 0 0 1 3.25,-80.95L2.45,-60.35A2.45,2.45 0 0 1 -2.45,-60.35Z" fill="url(#ov)"/></g>
<g transform="rotate(260.00)"><path d="M-3.25,-80.95A3.25,3.25 0 0 1 3.25,-80.95L2.45,-60.35A2.45,2.45 0 0 1 -2.45,-60.35Z" fill="url(#gpB)" stroke="#27106a" stroke-width="0.8"/><path d="M-3.25,-80.95A3.25,3.25 0 0 1 3.25,-80.95L2.45,-60.35A2.45,2.45 0 0 1 -2.45,-60.35Z" fill="url(#ov)"/></g>
<g transform="rotate(265.00)"><path d="M-3.25,-80.95A3.25,3.25 0 0 1 3.25,-80.95L2.45,-60.35A2.45,2.45 0 0 1 -2.45,-60.35Z" fill="url(#gpB)" stroke="#27106a" stroke-width="0.8"/><path d="M-3.25,-80.95A3.25,3.25 0 0 1 3.25,-80.95L2.45,-60.35A2.45,2.45 0 0 1 -2.45,-60.35Z" fill="url(#ov)"/></g>
<g transform="rotate(270.00)"><path d="M-3.25,-80.95A3.25,3.25 0 0 1 3.25,-80.95L2.45,-60.35A2.45,2.45 0 0 1 -2.45,-60.35Z" fill="url(#gpB)" stroke="#27106a" stroke-width="0.8"/><path d="M-3.25,-80.95A3.25,3.25 0 0 1 3.25,-80.95L2.45,-60.35A2.45,2.45 0 0 1 -2.45,-60.35Z" fill="url(#ov)"/></g>
<g transform="rotate(275.00)"><path d="M-3.25,-80.95A3.25,3.25 0 0 1 3.25,-80.95L2.45,-60.35A2.45,2.45 0 0 1 -2.45,-60.35Z" fill="url(#gpB)" stroke="#27106a" stroke-width="0.8"/><path d="M-3.25,-80.95A3.25,3.25 0 0 1 3.25,-80.95L2.45,-60.35A2.45,2.45 0 0 1 -2.45,-60.35Z" fill="url(#ov)"/></g>
<g transform="rotate(280.00)"><path d="M-3.25,-80.95A3.25,3.25 0 0 1 3.25,-80.95L2.45,-60.35A2.45,2.45 0 0 1 -2.45,-60.35Z" fill="url(#gpB)" stroke="#27106a" stroke-width="0.8"/><path d="M-3.25,-80.95A3.25,3.25 0 0 1 3.25,-80.95L2.45,-60.35A2.45,2.45 0 0 1 -2.45,-60.35Z" fill="url(#ov)"/></g>
<g transform="rotate(285.00)"><path d="M-3.25,-80.95A3.25,3.25 0 0 1 3.25,-80.95L2.45,-60.35A2.45,2.45 0 0 1 -2.45,-60.35Z" fill="url(#gpB)" stroke="#27106a" stroke-width="0.8"/><path d="M-3.25,-80.95A3.25,3.25 0 0 1 3.25,-80.95L2.45,-60.35A2.45,2.45 0 0 1 -2.45,-60.35Z" fill="url(#ov)"/></g>
<g transform="rotate(290.00)"><path d="M-3.25,-80.95A3.25,3.25 0 0 1 3.25,-80.95L2.45,-60.35A2.45,2.45 0 0 1 -2.45,-60.35Z" fill="url(#gpB)" stroke="#27106a" stroke-width="0.8"/><path d="M-3.25,-80.95A3.25,3.25 0 0 1 3.25,-80.95L2.45,-60.35A2.45,2.45 0 0 1 -2.45,-60.35Z" fill="url(#ov)"/></g>
<g transform="rotate(295.00)"><path d="M-3.25,-80.95A3.25,3.25 0 0 1 3.25,-80.95L2.45,-60.35A2.45,2.45 0 0 1 -2.45,-60.35Z" fill="url(#gpB)" stroke="#27106a" stroke-width="0.8"/><path d="M-3.25,-80.95A3.25,3.25 0 0 1 3.25,-80.95L2.45,-60.35A2.45,2.45 0 0 1 -2.45,-60.35Z" fill="url(#ov)"/></g>
<g transform="rotate(300.00)"><path d="M-3.25,-80.95A3.25,3.25 0 0 1 3.25,-80.95L2.45,-60.35A2.45,2.45 0 0 1 -2.45,-60.35Z" fill="url(#gpB)" stroke="#27106a" stroke-width="0.8"/><path d="M-3.25,-80.95A3.25,3.25 0 0 1 3.25,-80.95L2.45,-60.35A2.45,2.45 0 0 1 -2.45,-60.35Z" fill="url(#ov)"/></g>
<g transform="rotate(305.00)"><path d="M-3.25,-80.95A3.25,3.25 0 0 1 3.25,-80.95L2.45,-60.35A2.45,2.45 0 0 1 -2.45,-60.35Z" fill="url(#gpB)" stroke="#27106a" stroke-width="0.8"/><path d="M-3.25,-80.95A3.25,3.25 0 0 1 3.25,-80.95L2.45,-60.35A2.45,2.45 0 0 1 -2.45,-60.35Z" fill="url(#ov)"/></g>
<g transform="rotate(310.00)"><path d="M-3.25,-80.95A3.25,3.25 0 0 1 3.25,-80.95L2.45,-60.35A2.45,2.45 0 0 1 -2.45,-60.35Z" fill="url(#gpB)" stroke="#27106a" stroke-width="0.8"/><path d="M-3.25,-80.95A3.25,3.25 0 0 1 3.25,-80.95L2.45,-60.35A2.45,2.45 0 0 1 -2.45,-60.35Z" fill="url(#ov)"/></g>
<g transform="rotate(315.00)"><path d="M-3.25,-80.95A3.25,3.25 0 0 1 3.25,-80.95L2.45,-60.35A2.45,2.45 0 0 1 -2.45,-60.35Z" fill="url(#gpB)" stroke="#27106a" stroke-width="0.8"/><path d="M-3.25,-80.95A3.25,3.25 0 0 1 3.25,-80.95L2.45,-60.35A2.45,2.45 0 0 1 -2.45,-60.35Z" fill="url(#ov)"/></g>
<g transform="rotate(320.00)"><path d="M-3.25,-80.95A3.25,3.25 0 0 1 3.25,-80.95L2.45,-60.35A2.45,2.45 0 0 1 -2.45,-60.35Z" fill="url(#gpB)" stroke="#27106a" stroke-width="0.8"/><path d="M-3.25,-80.95A3.25,3.25 0 0 1 3.25,-80.95L2.45,-60.35A2.45,2.45 0 0 1 -2.45,-60.35Z" fill="url(#ov)"/></g>
<g transform="rotate(325.00)"><path d="M-3.25,-80.95A3.25,3.25 0 0 1 3.25,-80.95L2.45,-60.35A2.45,2.45 0 0 1 -2.45,-60.35Z" fill="url(#gpA)" stroke="#27106a" stroke-width="0.8"/><path d="M-3.25,-80.95A3.25,3.25 0 0 1 3.25,-80.95L2.45,-60.35A2.45,2.45 0 0 1 -2.45,-60.35Z" fill="url(#ov)"/></g>
<g transform="rotate(330.00)"><path d="M-3.25,-80.95A3.25,3.25 0 0 1 3.25,-80.95L2.45,-60.35A2.45,2.45 0 0 1 -2.45,-60.35Z" fill="url(#gpA)" stroke="#27106a" stroke-width="0.8"/><path d="M-3.25,-80.95A3.25,3.25 0 0 1 3.25,-80.95L2.45,-60.35A2.45,2.45 0 0 1 -2.45,-60.35Z" fill="url(#ov)"/></g>
<g transform="rotate(335.00)"><path d="M-3.25,-80.95A3.25,3.25 0 0 1 3.25,-80.95L2.45,-60.35A2.45,2.45 0 0 1 -2.45,-60.35Z" fill="url(#gpA)" stroke="#27106a" stroke-width="0.8"/><path d="M-3.25,-80.95A3.25,3.25 0 0 1 3.25,-80.95L2.45,-60.35A2.45,2.45 0 0 1 -2.45,-60.35Z" fill="url(#ov)"/></g>
<g transform="rotate(340.00)"><path d="M-3.25,-80.95A3.25,3.25 0 0 1 3.25,-80.95L2.45,-60.35A2.45,2.45 0 0 1 -2.45,-60.35Z" fill="url(#gpA)" stroke="#27106a" stroke-width="0.8"/><path d="M-3.25,-80.95A3.25,3.25 0 0 1 3.25,-80.95L2.45,-60.35A2.45,2.45 0 0 1 -2.45,-60.35Z" fill="url(#ov)"/></g>
<g transform="rotate(345.00)"><path d="M-3.25,-80.95A3.25,3.25 0 0 1 3.25,-80.95L2.45,-60.35A2.45,2.45 0 0 1 -2.45,-60.35Z" fill="url(#gpA)" stroke="#27106a" stroke-width="0.8"/><path d="M-3.25,-80.95A3.25,3.25 0 0 1 3.25,-80.95L2.45,-60.35A2.45,2.45 0 0 1 -2.45,-60.35Z" fill="url(#ov)"/></g>
<g transform="rotate(350.00)"><path d="M-3.25,-80.95A3.25,3.25 0 0 1 3.25,-80.95L2.45,-60.35A2.45,2.45 0 0 1 -2.45,-60.35Z" fill="url(#gpA)" stroke="#27106a" stroke-width="0.8"/><path d="M-3.25,-80.95A3.25,3.25 0 0 1 3.25,-80.95L2.45,-60.35A2.45,2.45 0 0 1 -2.45,-60.35Z" fill="url(#ov)"/></g>
<g transform="rotate(355.00)"><path d="M-3.25,-80.95A3.25,3.25 0 0 1 3.25,-80.95L2.45,-60.35A2.45,2.45 0 0 1 -2.45,-60.35Z" fill="url(#gpA)" stroke="#27106a" stroke-width="0.8"/><path d="M-3.25,-80.95A3.25,3.25 0 0 1 3.25,-80.95L2.45,-60.35A2.45,2.45 0 0 1 -2.45,-60.35Z" fill="url(#ov)"/></g>
</g><g transform="translate(402.2,177.8)">
<circle r="71.05" fill="none" stroke="#7a0604" stroke-width="17.3"/>
<g transform="rotate(0.00)"><path d="M-3.25,-80.95A3.25,3.25 0 0 1 3.25,-80.95L2.45,-60.35A2.45,2.45 0 0 1 -2.45,-60.35Z" fill="url(#grA)" stroke="#7a0604" stroke-width="0.8"/><path d="M-3.25,-80.95A3.25,3.25 0 0 1 3.25,-80.95L2.45,-60.35A2.45,2.45 0 0 1 -2.45,-60.35Z" fill="url(#ov)"/></g>
<g transform="rotate(5.00)"><path d="M-3.25,-80.95A3.25,3.25 0 0 1 3.25,-80.95L2.45,-60.35A2.45,2.45 0 0 1 -2.45,-60.35Z" fill="url(#grA)" stroke="#7a0604" stroke-width="0.8"/><path d="M-3.25,-80.95A3.25,3.25 0 0 1 3.25,-80.95L2.45,-60.35A2.45,2.45 0 0 1 -2.45,-60.35Z" fill="url(#ov)"/></g>
<g transform="rotate(10.00)"><path d="M-3.25,-80.95A3.25,3.25 0 0 1 3.25,-80.95L2.45,-60.35A2.45,2.45 0 0 1 -2.45,-60.35Z" fill="url(#grA)" stroke="#7a0604" stroke-width="0.8"/><path d="M-3.25,-80.95A3.25,3.25 0 0 1 3.25,-80.95L2.45,-60.35A2.45,2.45 0 0 1 -2.45,-60.35Z" fill="url(#ov)"/></g>
<g transform="rotate(15.00)"><path d="M-3.25,-80.95A3.25,3.25 0 0 1 3.25,-80.95L2.45,-60.35A2.45,2.45 0 0 1 -2.45,-60.35Z" fill="url(#grA)" stroke="#7a0604" stroke-width="0.8"/><path d="M-3.25,-80.95A3.25,3.25 0 0 1 3.25,-80.95L2.45,-60.35A2.45,2.45 0 0 1 -2.45,-60.35Z" fill="url(#ov)"/></g>
<g transform="rotate(20.00)"><path d="M-3.25,-80.95A3.25,3.25 0 0 1 3.25,-80.95L2.45,-60.35A2.45,2.45 0 0 1 -2.45,-60.35Z" fill="url(#grA)" stroke="#7a0604" stroke-width="0.8"/><path d="M-3.25,-80.95A3.25,3.25 0 0 1 3.25,-80.95L2.45,-60.35A2.45,2.45 0 0 1 -2.45,-60.35Z" fill="url(#ov)"/></g>
<g transform="rotate(25.00)"><path d="M-3.25,-80.95A3.25,3.25 0 0 1 3.25,-80.95L2.45,-60.35A2.45,2.45 0 0 1 -2.45,-60.35Z" fill="url(#grA)" stroke="#7a0604" stroke-width="0.8"/><path d="M-3.25,-80.95A3.25,3.25 0 0 1 3.25,-80.95L2.45,-60.35A2.45,2.45 0 0 1 -2.45,-60.35Z" fill="url(#ov)"/></g>
<g transform="rotate(30.00)"><path d="M-3.25,-80.95A3.25,3.25 0 0 1 3.25,-80.95L2.45,-60.35A2.45,2.45 0 0 1 -2.45,-60.35Z" fill="url(#grA)" stroke="#7a0604" stroke-width="0.8"/><path d="M-3.25,-80.95A3.25,3.25 0 0 1 3.25,-80.95L2.45,-60.35A2.45,2.45 0 0 1 -2.45,-60.35Z" fill="url(#ov)"/></g>
<g transform="rotate(35.00)"><path d="M-3.25,-80.95A3.25,3.25 0 0 1 3.25,-80.95L2.45,-60.35A2.45,2.45 0 0 1 -2.45,-60.35Z" fill="url(#grA)" stroke="#7a0604" stroke-width="0.8"/><path d="M-3.25,-80.95A3.25,3.25 0 0 1 3.25,-80.95L2.45,-60.35A2.45,2.45 0 0 1 -2.45,-60.35Z" fill="url(#ov)"/></g>
<g transform="rotate(40.00)"><path d="M-3.25,-80.95A3.25,3.25 0 0 1 3.25,-80.95L2.45,-60.35A2.45,2.45 0 0 1 -2.45,-60.35Z" fill="url(#grA)" stroke="#7a0604" stroke-width="0.8"/><path d="M-3.25,-80.95A3.25,3.25 0 0 1 3.25,-80.95L2.45,-60.35A2.45,2.45 0 0 1 -2.45,-60.35Z" fill="url(#ov)"/></g>
<g transform="rotate(45.00)"><path d="M-3.25,-80.95A3.25,3.25 0 0 1 3.25,-80.95L2.45,-60.35A2.45,2.45 0 0 1 -2.45,-60.35Z" fill="url(#grA)" stroke="#7a0604" stroke-width="0.8"/><path d="M-3.25,-80.95A3.25,3.25 0 0 1 3.25,-80.95L2.45,-60.35A2.45,2.45 0 0 1 -2.45,-60.35Z" fill="url(#ov)"/></g>
<g transform="rotate(50.00)"><path d="M-3.25,-80.95A3.25,3.25 0 0 1 3.25,-80.95L2.45,-60.35A2.45,2.45 0 0 1 -2.45,-60.35Z" fill="url(#grA)" stroke="#7a0604" stroke-width="0.8"/><path d="M-3.25,-80.95A3.25,3.25 0 0 1 3.25,-80.95L2.45,-60.35A2.45,2.45 0 0 1 -2.45,-60.35Z" fill="url(#ov)"/></g>
<g transform="rotate(55.00)"><path d="M-3.25,-80.95A3.25,3.25 0 0 1 3.25,-80.95L2.45,-60.35A2.45,2.45 0 0 1 -2.45,-60.35Z" fill="url(#grA)" stroke="#7a0604" stroke-width="0.8"/><path d="M-3.25,-80.95A3.25,3.25 0 0 1 3.25,-80.95L2.45,-60.35A2.45,2.45 0 0 1 -2.45,-60.35Z" fill="url(#ov)"/></g>
<g transform="rotate(60.00)"><path d="M-3.25,-80.95A3.25,3.25 0 0 1 3.25,-80.95L2.45,-60.35A2.45,2.45 0 0 1 -2.45,-60.35Z" fill="url(#grA)" stroke="#7a0604" stroke-width="0.8"/><path d="M-3.25,-80.95A3.25,3.25 0 0 1 3.25,-80.95L2.45,-60.35A2.45,2.45 0 0 1 -2.45,-60.35Z" fill="url(#ov)"/></g>
<g transform="rotate(65.00)"><path d="M-3.25,-80.95A3.25,3.25 0 0 1 3.25,-80.95L2.45,-60.35A2.45,2.45 0 0 1 -2.45,-60.35Z" fill="url(#grA)" stroke="#7a0604" stroke-width="0.8"/><path d="M-3.25,-80.95A3.25,3.25 0 0 1 3.25,-80.95L2.45,-60.35A2.45,2.45 0 0 1 -2.45,-60.35Z" fill="url(#ov)"/></g>
<g transform="rotate(70.00)"><path d="M-3.25,-80.95A3.25,3.25 0 0 1 3.25,-80.95L2.45,-60.35A2.45,2.45 0 0 1 -2.45,-60.35Z" fill="url(#grA)" stroke="#7a0604" stroke-width="0.8"/><path d="M-3.25,-80.95A3.25,3.25 0 0 1 3.25,-80.95L2.45,-60.35A2.45,2.45 0 0 1 -2.45,-60.35Z" fill="url(#ov)"/></g>
<g transform="rotate(75.00)"><path d="M-3.25,-80.95A3.25,3.25 0 0 1 3.25,-80.95L2.45,-60.35A2.45,2.45 0 0 1 -2.45,-60.35Z" fill="url(#grA)" stroke="#7a0604" stroke-width="0.8"/><path d="M-3.25,-80.95A3.25,3.25 0 0 1 3.25,-80.95L2.45,-60.35A2.45,2.45 0 0 1 -2.45,-60.35Z" fill="url(#ov)"/></g>
<g transform="rotate(80.00)"><path d="M-3.25,-80.95A3.25,3.25 0 0 1 3.25,-80.95L2.45,-60.35A2.45,2.45 0 0 1 -2.45,-60.35Z" fill="url(#grA)" stroke="#7a0604" stroke-width="0.8"/><path d="M-3.25,-80.95A3.25,3.25 0 0 1 3.25,-80.95L2.45,-60.35A2.45,2.45 0 0 1 -2.45,-60.35Z" fill="url(#ov)"/></g>
<g transform="rotate(85.00)"><path d="M-3.25,-80.95A3.25,3.25 0 0 1 3.25,-80.95L2.45,-60.35A2.45,2.45 0 0 1 -2.45,-60.35Z" fill="url(#grA)" stroke="#7a0604" stroke-width="0.8"/><path d="M-3.25,-80.95A3.25,3.25 0 0 1 3.25,-80.95L2.45,-60.35A2.45,2.45 0 0 1 -2.45,-60.35Z" fill="url(#ov)"/></g>
<g transform="rotate(90.00)"><path d="M-3.25,-80.95A3.25,3.25 0 0 1 3.25,-80.95L2.45,-60.35A2.45,2.45 0 0 1 -2.45,-60.35Z" fill="url(#grA)" stroke="#7a0604" stroke-width="0.8"/><path d="M-3.25,-80.95A3.25,3.25 0 0 1 3.25,-80.95L2.45,-60.35A2.45,2.45 0 0 1 -2.45,-60.35Z" fill="url(#ov)"/></g>
<g transform="rotate(95.00)"><path d="M-3.25,-80.95A3.25,3.25 0 0 1 3.25,-80.95L2.45,-60.35A2.45,2.45 0 0 1 -2.45,-60.35Z" fill="url(#grA)" stroke="#7a0604" stroke-width="0.8"/><path d="M-3.25,-80.95A3.25,3.25 0 0 1 3.25,-80.95L2.45,-60.35A2.45,2.45 0 0 1 -2.45,-60.35Z" fill="url(#ov)"/></g>
<g transform="rotate(100.00)"><path d="M-3.25,-80.95A3.25,3.25 0 0 1 3.25,-80.95L2.45,-60.35A2.45,2.45 0 0 1 -2.45,-60.35Z" fill="url(#grA)" stroke="#7a0604" stroke-width="0.8"/><path d="M-3.25,-80.95A3.25,3.25 0 0 1 3.25,-80.95L2.45,-60.35A2.45,2.45 0 0 1 -2.45,-60.35Z" fill="url(#ov)"/></g>
<g transform="rotate(105.00)"><path d="M-3.25,-80.95A3.25,3.25 0 0 1 3.25,-80.95L2.45,-60.35A2.45,2.45 0 0 1 -2.45,-60.35Z" fill="url(#grA)" stroke="#7a0604" stroke-width="0.8"/><path d="M-3.25,-80.95A3.25,3.25 0 0 1 3.25,-80.95L2.45,-60.35A2.45,2.45 0 0 1 -2.45,-60.35Z" fill="url(#ov)"/></g>
<g transform="rotate(110.00)"><path d="M-3.25,-80.95A3.25,3.25 0 0 1 3.25,-80.95L2.45,-60.35A2.45,2.45 0 0 1 -2.45,-60.35Z" fill="url(#grA)" stroke="#7a0604" stroke-width="0.8"/><path d="M-3.25,-80.95A3.25,3.25 0 0 1 3.25,-80.95L2.45,-60.35A2.45,2.45 0 0 1 -2.45,-60.35Z" fill="url(#ov)"/></g>
<g transform="rotate(115.00)"><path d="M-3.25,-80.95A3.25,3.25 0 0 1 3.25,-80.95L2.45,-60.35A2.45,2.45 0 0 1 -2.45,-60.35Z" fill="url(#grA)" stroke="#7a0604" stroke-width="0.8"/><path d="M-3.25,-80.95A3.25,3.25 0 0 1 3.25,-80.95L2.45,-60.35A2.45,2.45 0 0 1 -2.45,-60.35Z" fill="url(#ov)"/></g>
<g transform="rotate(120.00)"><path d="M-3.25,-80.95A3.25,3.25 0 0 1 3.25,-80.95L2.45,-60.35A2.45,2.45 0 0 1 -2.45,-60.35Z" fill="url(#grA)" stroke="#7a0604" stroke-width="0.8"/><path d="M-3.25,-80.95A3.25,3.25 0 0 1 3.25,-80.95L2.45,-60.35A2.45,2.45 0 0 1 -2.45,-60.35Z" fill="url(#ov)"/></g>
<g transform="rotate(125.00)"><path d="M-3.25,-80.95A3.25,3.25 0 0 1 3.25,-80.95L2.45,-60.35A2.45,2.45 0 0 1 -2.45,-60.35Z" fill="url(#grA)" stroke="#7a0604" stroke-width="0.8"/><path d="M-3.25,-80.95A3.25,3.25 0 0 1 3.25,-80.95L2.45,-60.35A2.45,2.45 0 0 1 -2.45,-60.35Z" fill="url(#ov)"/></g>
<g transform="rotate(130.00)"><path d="M-3.25,-80.95A3.25,3.25 0 0 1 3.25,-80.95L2.45,-60.35A2.45,2.45 0 0 1 -2.45,-60.35Z" fill="url(#grA)" stroke="#7a0604" stroke-width="0.8"/><path d="M-3.25,-80.95A3.25,3.25 0 0 1 3.25,-80.95L2.45,-60.35A2.45,2.45 0 0 1 -2.45,-60.35Z" fill="url(#ov)"/></g>
<g transform="rotate(135.00)"><path d="M-3.25,-80.95A3.25,3.25 0 0 1 3.25,-80.95L2.45,-60.35A2.45,2.45 0 0 1 -2.45,-60.35Z" fill="url(#grA)" stroke="#7a0604" stroke-width="0.8"/><path d="M-3.25,-80.95A3.25,3.25 0 0 1 3.25,-80.95L2.45,-60.35A2.45,2.45 0 0 1 -2.45,-60.35Z" fill="url(#ov)"/></g>
<g transform="rotate(140.00)"><path d="M-3.25,-80.95A3.25,3.25 0 0 1 3.25,-80.95L2.45,-60.35A2.45,2.45 0 0 1 -2.45,-60.35Z" fill="url(#grA)" stroke="#7a0604" stroke-width="0.8"/><path d="M-3.25,-80.95A3.25,3.25 0 0 1 3.25,-80.95L2.45,-60.35A2.45,2.45 0 0 1 -2.45,-60.35Z" fill="url(#ov)"/></g>
<g transform="rotate(145.00)"><path d="M-3.25,-80.95A3.25,3.25 0 0 1 3.25,-80.95L2.45,-60.35A2.45,2.45 0 0 1 -2.45,-60.35Z" fill="url(#grB)" stroke="#7a0604" stroke-width="0.8"/><path d="M-3.25,-80.95A3.25,3.25 0 0 1 3.25,-80.95L2.45,-60.35A2.45,2.45 0 0 1 -2.45,-60.35Z" fill="url(#ov)"/></g>
<g transform="rotate(150.00)"><path d="M-3.25,-80.95A3.25,3.25 0 0 1 3.25,-80.95L2.45,-60.35A2.45,2.45 0 0 1 -2.45,-60.35Z" fill="url(#grB)" stroke="#7a0604" stroke-width="0.8"/><path d="M-3.25,-80.95A3.25,3.25 0 0 1 3.25,-80.95L2.45,-60.35A2.45,2.45 0 0 1 -2.45,-60.35Z" fill="url(#ov)"/></g>
<g transform="rotate(155.00)"><path d="M-3.25,-80.95A3.25,3.25 0 0 1 3.25,-80.95L2.45,-60.35A2.45,2.45 0 0 1 -2.45,-60.35Z" fill="url(#grB)" stroke="#7a0604" stroke-width="0.8"/><path d="M-3.25,-80.95A3.25,3.25 0 0 1 3.25,-80.95L2.45,-60.35A2.45,2.45 0 0 1 -2.45,-60.35Z" fill="url(#ov)"/></g>
<g transform="rotate(160.00)"><path d="M-3.25,-80.95A3.25,3.25 0 0 1 3.25,-80.95L2.45,-60.35A2.45,2.45 0 0 1 -2.45,-60.35Z" fill="url(#grB)" stroke="#7a0604" stroke-width="0.8"/><path d="M-3.25,-80.95A3.25,3.25 0 0 1 3.25,-80.95L2.45,-60.35A2.45,2.45 0 0 1 -2.45,-60.35Z" fill="url(#ov)"/></g>
<g transform="rotate(165.00)"><path d="M-3.25,-80.95A3.25,3.25 0 0 1 3.25,-80.95L2.45,-60.35A2.45,2.45 0 0 1 -2.45,-60.35Z" fill="url(#grB)" stroke="#7a0604" stroke-width="0.8"/><path d="M-3.25,-80.95A3.25,3.25 0 0 1 3.25,-80.95L2.45,-60.35A2.45,2.45 0 0 1 -2.45,-60.35Z" fill="url(#ov)"/></g>
<g transform="rotate(170.00)"><path d="M-3.25,-80.95A3.25,3.25 0 0 1 3.25,-80.95L2.45,-60.35A2.45,2.45 0 0 1 -2.45,-60.35Z" fill="url(#grB)" stroke="#7a0604" stroke-width="0.8"/><path d="M-3.25,-80.95A3.25,3.25 0 0 1 3.25,-80.95L2.45,-60.35A2.45,2.45 0 0 1 -2.45,-60.35Z" fill="url(#ov)"/></g>
<g transform="rotate(175.00)"><path d="M-3.25,-80.95A3.25,3.25 0 0 1 3.25,-80.95L2.45,-60.35A2.45,2.45 0 0 1 -2.45,-60.35Z" fill="url(#grB)" stroke="#7a0604" stroke-width="0.8"/><path d="M-3.25,-80.95A3.25,3.25 0 0 1 3.25,-80.95L2.45,-60.35A2.45,2.45 0 0 1 -2.45,-60.35Z" fill="url(#ov)"/></g>
<g transform="rotate(180.00)"><path d="M-3.25,-80.95A3.25,3.25 0 0 1 3.25,-80.95L2.45,-60.35A2.45,2.45 0 0 1 -2.45,-60.35Z" fill="url(#grB)" stroke="#7a0604" stroke-width="0.8"/><path d="M-3.25,-80.95A3.25,3.25 0 0 1 3.25,-80.95L2.45,-60.35A2.45,2.45 0 0 1 -2.45,-60.35Z" fill="url(#ov)"/></g>
<g transform="rotate(185.00)"><path d="M-3.25,-80.95A3.25,3.25 0 0 1 3.25,-80.95L2.45,-60.35A2.45,2.45 0 0 1 -2.45,-60.35Z" fill="url(#grB)" stroke="#7a0604" stroke-width="0.8"/><path d="M-3.25,-80.95A3.25,3.25 0 0 1 3.25,-80.95L2.45,-60.35A2.45,2.45 0 0 1 -2.45,-60.35Z" fill="url(#ov)"/></g>
<g transform="rotate(190.00)"><path d="M-3.25,-80.95A3.25,3.25 0 0 1 3.25,-80.95L2.45,-60.35A2.45,2.45 0 0 1 -2.45,-60.35Z" fill="url(#grB)" stroke="#7a0604" stroke-width="0.8"/><path d="M-3.25,-80.95A3.25,3.25 0 0 1 3.25,-80.95L2.45,-60.35A2.45,2.45 0 0 1 -2.45,-60.35Z" fill="url(#ov)"/></g>
<g transform="rotate(195.00)"><path d="M-3.25,-80.95A3.25,3.25 0 0 1 3.25,-80.95L2.45,-60.35A2.45,2.45 0 0 1 -2.45,-60.35Z" fill="url(#grB)" stroke="#7a0604" stroke-width="0.8"/><path d="M-3.25,-80.95A3.25,3.25 0 0 1 3.25,-80.95L2.45,-60.35A2.45,2.45 0 0 1 -2.45,-60.35Z" fill="url(#ov)"/></g>
<g transform="rotate(200.00)"><path d="M-3.25,-80.95A3.25,3.25 0 0 1 3.25,-80.95L2.45,-60.35A2.45,2.45 0 0 1 -2.45,-60.35Z" fill="url(#grB)" stroke="#7a0604" stroke-width="0.8"/><path d="M-3.25,-80.95A3.25,3.25 0 0 1 3.25,-80.95L2.45,-60.35A2.45,2.45 0 0 1 -2.45,-60.35Z" fill="url(#ov)"/></g>
<g transform="rotate(205.00)"><path d="M-3.25,-80.95A3.25,3.25 0 0 1 3.25,-80.95L2.45,-60.35A2.45,2.45 0 0 1 -2.45,-60.35Z" fill="url(#grB)" stroke="#7a0604" stroke-width="0.8"/><path d="M-3.25,-80.95A3.25,3.25 0 0 1 3.25,-80.95L2.45,-60.35A2.45,2.45 0 0 1 -2.45,-60.35Z" fill="url(#ov)"/></g>
<g transform="rotate(210.00)"><path d="M-3.25,-80.95A3.25,3.25 0 0 1 3.25,-80.95L2.45,-60.35A2.45,2.45 0 0 1 -2.45,-60.35Z" fill="url(#grB)" stroke="#7a0604" stroke-width="0.8"/><path d="M-3.25,-80.95A3.25,3.25 0 0 1 3.25,-80.95L2.45,-60.35A2.45,2.45 0 0 1 -2.45,-60.35Z" fill="url(#ov)"/></g>
<g transform="rotate(215.00)"><path d="M-3.25,-80.95A3.25,3.25 0 0 1 3.25,-80.95L2.45,-60.35A2.45,2.45 0 0 1 -2.45,-60.35Z" fill="url(#grB)" stroke="#7a0604" stroke-width="0.8"/><path d="M-3.25,-80.95A3.25,3.25 0 0 1 3.25,-80.95L2.45,-60.35A2.45,2.45 0 0 1 -2.45,-60.35Z" fill="url(#ov)"/></g>
<g transform="rotate(220.00)"><path d="M-3.25,-80.95A3.25,3.25 0 0 1 3.25,-80.95L2.45,-60.35A2.45,2.45 0 0 1 -2.45,-60.35Z" fill="url(#grB)" stroke="#7a0604" stroke-width="0.8"/><path d="M-3.25,-80.95A3.25,3.25 0 0 1 3.25,-80.95L2.45,-60.35A2.45,2.45 0 0 1 -2.45,-60.35Z" fill="url(#ov)"/></g>
<g transform="rotate(225.00)"><path d="M-3.25,-80.95A3.25,3.25 0 0 1 3.25,-80.95L2.45,-60.35A2.45,2.45 0 0 1 -2.45,-60.35Z" fill="url(#grB)" stroke="#7a0604" stroke-width="0.8"/><path d="M-3.25,-80.95A3.25,3.25 0 0 1 3.25,-80.95L2.45,-60.35A2.45,2.45 0 0 1 -2.45,-60.35Z" fill="url(#ov)"/></g>
<g transform="rotate(230.00)"><path d="M-3.25,-80.95A3.25,3.25 0 0 1 3.25,-80.95L2.45,-60.35A2.45,2.45 0 0 1 -2.45,-60.35Z" fill="url(#grB)" stroke="#7a0604" stroke-width="0.8"/><path d="M-3.25,-80.95A3.25,3.25 0 0 1 3.25,-80.95L2.45,-60.35A2.45,2.45 0 0 1 -2.45,-60.35Z" fill="url(#ov)"/></g>
<g transform="rotate(235.00)"><path d="M-3.25,-80.95A3.25,3.25 0 0 1 3.25,-80.95L2.45,-60.35A2.45,2.45 0 0 1 -2.45,-60.35Z" fill="url(#grB)" stroke="#7a0604" stroke-width="0.8"/><path d="M-3.25,-80.95A3.25,3.25 0 0 1 3.25,-80.95L2.45,-60.35A2.45,2.45 0 0 1 -2.45,-60.35Z" fill="url(#ov)"/></g>
<g transform="rotate(240.00)"><path d="M-3.25,-80.95A3.25,3.25 0 0 1 3.25,-80.95L2.45,-60.35A2.45,2.45 0 0 1 -2.45,-60.35Z" fill="url(#grB)" stroke="#7a0604" stroke-width="0.8"/><path d="M-3.25,-80.95A3.25,3.25 0 0 1 3.25,-80.95L2.45,-60.35A2.45,2.45 0 0 1 -2.45,-60.35Z" fill="url(#ov)"/></g>
<g transform="rotate(245.00)"><path d="M-3.25,-80.95A3.25,3.25 0 0 1 3.25,-80.95L2.45,-60.35A2.45,2.45 0 0 1 -2.45,-60.35Z" fill="url(#grB)" stroke="#7a0604" stroke-width="0.8"/><path d="M-3.25,-80.95A3.25,3.25 0 0 1 3.25,-80.95L2.45,-60.35A2.45,2.45 0 0 1 -2.45,-60.35Z" fill="url(#ov)"/></g>
<g transform="rotate(250.00)"><path d="M-3.25,-80.95A3.25,3.25 0 0 1 3.25,-80.95L2.45,-60.35A2.45,2.45 0 0 1 -2.45,-60.35Z" fill="url(#grB)" stroke="#7a0604" stroke-width="0.8"/><path d="M-3.25,-80.95A3.25,3.25 0 0 1 3.25,-80.95L2.45,-60.35A2.45,2.45 0 0 1 -2.45,-60.35Z" fill="url(#ov)"/></g>
<g transform="rotate(255.00)"><path d="M-3.25,-80.95A3.25,3.25 0 0 1 3.25,-80.95L2.45,-60.35A2.45,2.45 0 0 1 -2.45,-60.35Z" fill="url(#grB)" stroke="#7a0604" stroke-width="0.8"/><path d="M-3.25,-80.95A3.25,3.25 0 0 1 3.25,-80.95L2.45,-60.35A2.45,2.45 0 0 1 -2.45,-60.35Z" fill="url(#ov)"/></g>
<g transform="rotate(260.00)"><path d="M-3.25,-80.95A3.25,3.25 0 0 1 3.25,-80.95L2.45,-60.35A2.45,2.45 0 0 1 -2.45,-60.35Z" fill="url(#grB)" stroke="#7a0604" stroke-width="0.8"/><path d="M-3.25,-80.95A3.25,3.25 0 0 1 3.25,-80.95L2.45,-60.35A2.45,2.45 0 0 1 -2.45,-60.35Z" fill="url(#ov)"/></g>
<g transform="rotate(265.00)"><path d="M-3.25,-80.95A3.25,3.25 0 0 1 3.25,-80.95L2.45,-60.35A2.45,2.45 0 0 1 -2.45,-60.35Z" fill="url(#grB)" stroke="#7a0604" stroke-width="0.8"/><path d="M-3.25,-80.95A3.25,3.25 0 0 1 3.25,-80.95L2.45,-60.35A2.45,2.45 0 0 1 -2.45,-60.35Z" fill="url(#ov)"/></g>
<g transform="rotate(270.00)"><path d="M-3.25,-80.95A3.25,3.25 0 0 1 3.25,-80.95L2.45,-60.35A2.45,2.45 0 0 1 -2.45,-60.35Z" fill="url(#grB)" stroke="#7a0604" stroke-width="0.8"/><path d="M-3.25,-80.95A3.25,3.25 0 0 1 3.25,-80.95L2.45,-60.35A2.45,2.45 0 0 1 -2.45,-60.35Z" fill="url(#ov)"/></g>
<g transform="rotate(275.00)"><path d="M-3.25,-80.95A3.25,3.25 0 0 1 3.25,-80.95L2.45,-60.35A2.45,2.45 0 0 1 -2.45,-60.35Z" fill="url(#grB)" stroke="#7a0604" stroke-width="0.8"/><path d="M-3.25,-80.95A3.25,3.25 0 0 1 3.25,-80.95L2.45,-60.35A2.45,2.45 0 0 1 -2.45,-60.35Z" fill="url(#ov)"/></g>
<g transform="rotate(280.00)"><path d="M-3.25,-80.95A3.25,3.25 0 0 1 3.25,-80.95L2.45,-60.35A2.45,2.45 0 0 1 -2.45,-60.35Z" fill="url(#grB)" stroke="#7a0604" stroke-width="0.8"/><path d="M-3.25,-80.95A3.25,3.25 0 0 1 3.25,-80.95L2.45,-60.35A2.45,2.45 0 0 1 -2.45,-60.35Z" fill="url(#ov)"/></g>
<g transform="rotate(285.00)"><path d="M-3.25,-80.95A3.25,3.25 0 0 1 3.25,-80.95L2.45,-60.35A2.45,2.45 0 0 1 -2.45,-60.35Z" fill="url(#grB)" stroke="#7a0604" stroke-width="0.8"/><path d="M-3.25,-80.95A3.25,3.25 0 0 1 3.25,-80.95L2.45,-60.35A2.45,2.45 0 0 1 -2.45,-60.35Z" fill="url(#ov)"/></g>
<g transform="rotate(290.00)"><path d="M-3.25,-80.95A3.25,3.25 0 0 1 3.25,-80.95L2.45,-60.35A2.45,2.45 0 0 1 -2.45,-60.35Z" fill="url(#grB)" stroke="#7a0604" stroke-width="0.8"/><path d="M-3.25,-80.95A3.25,3.25 0 0 1 3.25,-80.95L2.45,-60.35A2.45,2.45 0 0 1 -2.45,-60.35Z" fill="url(#ov)"/></g>
<g transform="rotate(295.00)"><path d="M-3.25,-80.95A3.25,3.25 0 0 1 3.25,-80.95L2.45,-60.35A2.45,2.45 0 0 1 -2.45,-60.35Z" fill="url(#grB)" stroke="#7a0604" stroke-width="0.8"/><path d="M-3.25,-80.95A3.25,3.25 0 0 1 3.25,-80.95L2.45,-60.35A2.45,2.45 0 0 1 -2.45,-60.35Z" fill="url(#ov)"/></g>
<g transform="rotate(300.00)"><path d="M-3.25,-80.95A3.25,3.25 0 0 1 3.25,-80.95L2.45,-60.35A2.45,2.45 0 0 1 -2.45,-60.35Z" fill="url(#grB)" stroke="#7a0604" stroke-width="0.8"/><path d="M-3.25,-80.95A3.25,3.25 0 0 1 3.25,-80.95L2.45,-60.35A2.45,2.45 0 0 1 -2.45,-60.35Z" fill="url(#ov)"/></g>
<g transform="rotate(305.00)"><path d="M-3.25,-80.95A3.25,3.25 0 0 1 3.25,-80.95L2.45,-60.35A2.45,2.45 0 0 1 -2.45,-60.35Z" fill="url(#grB)" stroke="#7a0604" stroke-width="0.8"/><path d="M-3.25,-80.95A3.25,3.25 0 0 1 3.25,-80.95L2.45,-60.35A2.45,2.45 0 0 1 -2.45,-60.35Z" fill="url(#ov)"/></g>
<g transform="rotate(310.00)"><path d="M-3.25,-80.95A3.25,3.25 0 0 1 3.25,-80.95L2.45,-60.35A2.45,2.45 0 0 1 -2.45,-60.35Z" fill="url(#grB)" stroke="#7a0604" stroke-width="0.8"/><path d="M-3.25,-80.95A3.25,3.25 0 0 1 3.25,-80.95L2.45,-60.35A2.45,2.45 0 0 1 -2.45,-60.35Z" fill="url(#ov)"/></g>
<g transform="rotate(315.00)"><path d="M-3.25,-80.95A3.25,3.25 0 0 1 3.25,-80.95L2.45,-60.35A2.45,2.45 0 0 1 -2.45,-60.35Z" fill="url(#grB)" stroke="#7a0604" stroke-width="0.8"/><path d="M-3.25,-80.95A3.25,3.25 0 0 1 3.25,-80.95L2.45,-60.35A2.45,2.45 0 0 1 -2.45,-60.35Z" fill="url(#ov)"/></g>
<g transform="rotate(320.00)"><path d="M-3.25,-80.95A3.25,3.25 0 0 1 3.25,-80.95L2.45,-60.35A2.45,2.45 0 0 1 -2.45,-60.35Z" fill="url(#grB)" stroke="#7a0604" stroke-width="0.8"/><path d="M-3.25,-80.95A3.25,3.25 0 0 1 3.25,-80.95L2.45,-60.35A2.45,2.45 0 0 1 -2.45,-60.35Z" fill="url(#ov)"/></g>
<g transform="rotate(325.00)"><path d="M-3.25,-80.95A3.25,3.25 0 0 1 3.25,-80.95L2.45,-60.35A2.45,2.45 0 0 1 -2.45,-60.35Z" fill="url(#grA)" stroke="#7a0604" stroke-width="0.8"/><path d="M-3.25,-80.95A3.25,3.25 0 0 1 3.25,-80.95L2.45,-60.35A2.45,2.45 0 0 1 -2.45,-60.35Z" fill="url(#ov)"/></g>
<g transform="rotate(330.00)"><path d="M-3.25,-80.95A3.25,3.25 0 0 1 3.25,-80.95L2.45,-60.35A2.45,2.45 0 0 1 -2.45,-60.35Z" fill="url(#grA)" stroke="#7a0604" stroke-width="0.8"/><path d="M-3.25,-80.95A3.25,3.25 0 0 1 3.25,-80.95L2.45,-60.35A2.45,2.45 0 0 1 -2.45,-60.35Z" fill="url(#ov)"/></g>
<g transform="rotate(335.00)"><path d="M-3.25,-80.95A3.25,3.25 0 0 1 3.25,-80.95L2.45,-60.35A2.45,2.45 0 0 1 -2.45,-60.35Z" fill="url(#grA)" stroke="#7a0604" stroke-width="0.8"/><path d="M-3.25,-80.95A3.25,3.25 0 0 1 3.25,-80.95L2.45,-60.35A2.45,2.45 0 0 1 -2.45,-60.35Z" fill="url(#ov)"/></g>
<g transform="rotate(340.00)"><path d="M-3.25,-80.95A3.25,3.25 0 0 1 3.25,-80.95L2.45,-60.35A2.45,2.45 0 0 1 -2.45,-60.35Z" fill="url(#grA)" stroke="#7a0604" stroke-width="0.8"/><path d="M-3.25,-80.95A3.25,3.25 0 0 1 3.25,-80.95L2.45,-60.35A2.45,2.45 0 0 1 -2.45,-60.35Z" fill="url(#ov)"/></g>
<g transform="rotate(345.00)"><path d="M-3.25,-80.95A3.25,3.25 0 0 1 3.25,-80.95L2.45,-60.35A2.45,2.45 0 0 1 -2.45,-60.35Z" fill="url(#grA)" stroke="#7a0604" stroke-width="0.8"/><path d="M-3.25,-80.95A3.25,3.25 0 0 1 3.25,-80.95L2.45,-60.35A2.45,2.45 0 0 1 -2.45,-60.35Z" fill="url(#ov)"/></g>
<g transform="rotate(350.00)"><path d="M-3.25,-80.95A3.25,3.25 0 0 1 3.25,-80.95L2.45,-60.35A2.45,2.45 0 0 1 -2.45,-60.35Z" fill="url(#grA)" stroke="#7a0604" stroke-width="0.8"/><path d="M-3.25,-80.95A3.25,3.25 0 0 1 3.25,-80.95L2.45,-60.35A2.45,2.45 0 0 1 -2.45,-60.35Z" fill="url(#ov)"/></g>
<g transform="rotate(355.00)"><path d="M-3.25,-80.95A3.25,3.25 0 0 1 3.25,-80.95L2.45,-60.35A2.45,2.45 0 0 1 -2.45,-60.35Z" fill="url(#grA)" stroke="#7a0604" stroke-width="0.8"/><path d="M-3.25,-80.95A3.25,3.25 0 0 1 3.25,-80.95L2.45,-60.35A2.45,2.45 0 0 1 -2.45,-60.35Z" fill="url(#ov)"/></g>
</g><g transform="translate(469.6,177.8)">
<circle r="71.05" fill="none" stroke="#960c7c" stroke-width="17.3"/>
<g transform="rotate(0.00)"><path d="M-3.25,-80.95A3.25,3.25 0 0 1 3.25,-80.95L2.45,-60.35A2.45,2.45 0 0 1 -2.45,-60.35Z" fill="url(#gkA)" stroke="#960c7c" stroke-width="0.8"/><path d="M-3.25,-80.95A3.25,3.25 0 0 1 3.25,-80.95L2.45,-60.35A2.45,2.45 0 0 1 -2.45,-60.35Z" fill="url(#ov)"/></g>
<g transform="rotate(5.00)"><path d="M-3.25,-80.95A3.25,3.25 0 0 1 3.25,-80.95L2.45,-60.35A2.45,2.45 0 0 1 -2.45,-60.35Z" fill="url(#gkA)" stroke="#960c7c" stroke-width="0.8"/><path d="M-3.25,-80.95A3.25,3.25 0 0 1 3.25,-80.95L2.45,-60.35A2.45,2.45 0 0 1 -2.45,-60.35Z" fill="url(#ov)"/></g>
<g transform="rotate(10.00)"><path d="M-3.25,-80.95A3.25,3.25 0 0 1 3.25,-80.95L2.45,-60.35A2.45,2.45 0 0 1 -2.45,-60.35Z" fill="url(#gkA)" stroke="#960c7c" stroke-width="0.8"/><path d="M-3.25,-80.95A3.25,3.25 0 0 1 3.25,-80.95L2.45,-60.35A2.45,2.45 0 0 1 -2.45,-60.35Z" fill="url(#ov)"/></g>
<g transform="rotate(15.00)"><path d="M-3.25,-80.95A3.25,3.25 0 0 1 3.25,-80.95L2.45,-60.35A2.45,2.45 0 0 1 -2.45,-60.35Z" fill="url(#gkA)" stroke="#960c7c" stroke-width="0.8"/><path d="M-3.25,-80.95A3.25,3.25 0 0 1 3.25,-80.95L2.45,-60.35A2.45,2.45 0 0 1 -2.45,-60.35Z" fill="url(#ov)"/></g>
<g transform="rotate(20.00)"><path d="M-3.25,-80.95A3.25,3.25 0 0 1 3.25,-80.95L2.45,-60.35A2.45,2.45 0 0 1 -2.45,-60.35Z" fill="url(#gkA)" stroke="#960c7c" stroke-width="0.8"/><path d="M-3.25,-80.95A3.25,3.25 0 0 1 3.25,-80.95L2.45,-60.35A2.45,2.45 0 0 1 -2.45,-60.35Z" fill="url(#ov)"/></g>
<g transform="rotate(25.00)"><path d="M-3.25,-80.95A3.25,3.25 0 0 1 3.25,-80.95L2.45,-60.35A2.45,2.45 0 0 1 -2.45,-60.35Z" fill="url(#gkA)" stroke="#960c7c" stroke-width="0.8"/><path d="M-3.25,-80.95A3.25,3.25 0 0 1 3.25,-80.95L2.45,-60.35A2.45,2.45 0 0 1 -2.45,-60.35Z" fill="url(#ov)"/></g>
<g transform="rotate(30.00)"><path d="M-3.25,-80.95A3.25,3.25 0 0 1 3.25,-80.95L2.45,-60.35A2.45,2.45 0 0 1 -2.45,-60.35Z" fill="url(#gkA)" stroke="#960c7c" stroke-width="0.8"/><path d="M-3.25,-80.95A3.25,3.25 0 0 1 3.25,-80.95L2.45,-60.35A2.45,2.45 0 0 1 -2.45,-60.35Z" fill="url(#ov)"/></g>
<g transform="rotate(35.00)"><path d="M-3.25,-80.95A3.25,3.25 0 0 1 3.25,-80.95L2.45,-60.35A2.45,2.45 0 0 1 -2.45,-60.35Z" fill="url(#gkA)" stroke="#960c7c" stroke-width="0.8"/><path d="M-3.25,-80.95A3.25,3.25 0 0 1 3.25,-80.95L2.45,-60.35A2.45,2.45 0 0 1 -2.45,-60.35Z" fill="url(#ov)"/></g>
<g transform="rotate(40.00)"><path d="M-3.25,-80.95A3.25,3.25 0 0 1 3.25,-80.95L2.45,-60.35A2.45,2.45 0 0 1 -2.45,-60.35Z" fill="url(#gkA)" stroke="#960c7c" stroke-width="0.8"/><path d="M-3.25,-80.95A3.25,3.25 0 0 1 3.25,-80.95L2.45,-60.35A2.45,2.45 0 0 1 -2.45,-60.35Z" fill="url(#ov)"/></g>
<g transform="rotate(45.00)"><path d="M-3.25,-80.95A3.25,3.25 0 0 1 3.25,-80.95L2.45,-60.35A2.45,2.45 0 0 1 -2.45,-60.35Z" fill="url(#gkA)" stroke="#960c7c" stroke-width="0.8"/><path d="M-3.25,-80.95A3.25,3.25 0 0 1 3.25,-80.95L2.45,-60.35A2.45,2.45 0 0 1 -2.45,-60.35Z" fill="url(#ov)"/></g>
<g transform="rotate(50.00)"><path d="M-3.25,-80.95A3.25,3.25 0 0 1 3.25,-80.95L2.45,-60.35A2.45,2.45 0 0 1 -2.45,-60.35Z" fill="url(#gkA)" stroke="#960c7c" stroke-width="0.8"/><path d="M-3.25,-80.95A3.25,3.25 0 0 1 3.25,-80.95L2.45,-60.35A2.45,2.45 0 0 1 -2.45,-60.35Z" fill="url(#ov)"/></g>
<g transform="rotate(55.00)"><path d="M-3.25,-80.95A3.25,3.25 0 0 1 3.25,-80.95L2.45,-60.35A2.45,2.45 0 0 1 -2.45,-60.35Z" fill="url(#gkA)" stroke="#960c7c" stroke-width="0.8"/><path d="M-3.25,-80.95A3.25,3.25 0 0 1 3.25,-80.95L2.45,-60.35A2.45,2.45 0 0 1 -2.45,-60.35Z" fill="url(#ov)"/></g>
<g transform="rotate(60.00)"><path d="M-3.25,-80.95A3.25,3.25 0 0 1 3.25,-80.95L2.45,-60.35A2.45,2.45 0 0 1 -2.45,-60.35Z" fill="url(#gkA)" stroke="#960c7c" stroke-width="0.8"/><path d="M-3.25,-80.95A3.25,3.25 0 0 1 3.25,-80.95L2.45,-60.35A2.45,2.45 0 0 1 -2.45,-60.35Z" fill="url(#ov)"/></g>
<g transform="rotate(65.00)"><path d="M-3.25,-80.95A3.25,3.25 0 0 1 3.25,-80.95L2.45,-60.35A2.45,2.45 0 0 1 -2.45,-60.35Z" fill="url(#gkA)" stroke="#960c7c" stroke-width="0.8"/><path d="M-3.25,-80.95A3.25,3.25 0 0 1 3.25,-80.95L2.45,-60.35A2.45,2.45 0 0 1 -2.45,-60.35Z" fill="url(#ov)"/></g>
<g transform="rotate(70.00)"><path d="M-3.25,-80.95A3.25,3.25 0 0 1 3.25,-80.95L2.45,-60.35A2.45,2.45 0 0 1 -2.45,-60.35Z" fill="url(#gkA)" stroke="#960c7c" stroke-width="0.8"/><path d="M-3.25,-80.95A3.25,3.25 0 0 1 3.25,-80.95L2.45,-60.35A2.45,2.45 0 0 1 -2.45,-60.35Z" fill="url(#ov)"/></g>
<g transform="rotate(75.00)"><path d="M-3.25,-80.95A3.25,3.25 0 0 1 3.25,-80.95L2.45,-60.35A2.45,2.45 0 0 1 -2.45,-60.35Z" fill="url(#gkA)" stroke="#960c7c" stroke-width="0.8"/><path d="M-3.25,-80.95A3.25,3.25 0 0 1 3.25,-80.95L2.45,-60.35A2.45,2.45 0 0 1 -2.45,-60.35Z" fill="url(#ov)"/></g>
<g transform="rotate(80.00)"><path d="M-3.25,-80.95A3.25,3.25 0 0 1 3.25,-80.95L2.45,-60.35A2.45,2.45 0 0 1 -2.45,-60.35Z" fill="url(#gkA)" stroke="#960c7c" stroke-width="0.8"/><path d="M-3.25,-80.95A3.25,3.25 0 0 1 3.25,-80.95L2.45,-60.35A2.45,2.45 0 0 1 -2.45,-60.35Z" fill="url(#ov)"/></g>
<g transform="rotate(85.00)"><path d="M-3.25,-80.95A3.25,3.25 0 0 1 3.25,-80.95L2.45,-60.35A2.45,2.45 0 0 1 -2.45,-60.35Z" fill="url(#gkA)" stroke="#960c7c" stroke-width="0.8"/><path d="M-3.25,-80.95A3.25,3.25 0 0 1 3.25,-80.95L2.45,-60.35A2.45,2.45 0 0 1 -2.45,-60.35Z" fill="url(#ov)"/></g>
<g transform="rotate(90.00)"><path d="M-3.25,-80.95A3.25,3.25 0 0 1 3.25,-80.95L2.45,-60.35A2.45,2.45 0 0 1 -2.45,-60.35Z" fill="url(#gkA)" stroke="#960c7c" stroke-width="0.8"/><path d="M-3.25,-80.95A3.25,3.25 0 0 1 3.25,-80.95L2.45,-60.35A2.45,2.45 0 0 1 -2.45,-60.35Z" fill="url(#ov)"/></g>
<g transform="rotate(95.00)"><path d="M-3.25,-80.95A3.25,3.25 0 0 1 3.25,-80.95L2.45,-60.35A2.45,2.45 0 0 1 -2.45,-60.35Z" fill="url(#gkA)" stroke="#960c7c" stroke-width="0.8"/><path d="M-3.25,-80.95A3.25,3.25 0 0 1 3.25,-80.95L2.45,-60.35A2.45,2.45 0 0 1 -2.45,-60.35Z" fill="url(#ov)"/></g>
<g transform="rotate(100.00)"><path d="M-3.25,-80.95A3.25,3.25 0 0 1 3.25,-80.95L2.45,-60.35A2.45,2.45 0 0 1 -2.45,-60.35Z" fill="url(#gkA)" stroke="#960c7c" stroke-width="0.8"/><path d="M-3.25,-80.95A3.25,3.25 0 0 1 3.25,-80.95L2.45,-60.35A2.45,2.45 0 0 1 -2.45,-60.35Z" fill="url(#ov)"/></g>
<g transform="rotate(105.00)"><path d="M-3.25,-80.95A3.25,3.25 0 0 1 3.25,-80.95L2.45,-60.35A2.45,2.45 0 0 1 -2.45,-60.35Z" fill="url(#gkA)" stroke="#960c7c" stroke-width="0.8"/><path d="M-3.25,-80.95A3.25,3.25 0 0 1 3.25,-80.95L2.45,-60.35A2.45,2.45 0 0 1 -2.45,-60.35Z" fill="url(#ov)"/></g>
<g transform="rotate(110.00)"><path d="M-3.25,-80.95A3.25,3.25 0 0 1 3.25,-80.95L2.45,-60.35A2.45,2.45 0 0 1 -2.45,-60.35Z" fill="url(#gkA)" stroke="#960c7c" stroke-width="0.8"/><path d="M-3.25,-80.95A3.25,3.25 0 0 1 3.25,-80.95L2.45,-60.35A2.45,2.45 0 0 1 -2.45,-60.35Z" fill="url(#ov)"/></g>
<g transform="rotate(115.00)"><path d="M-3.25,-80.95A3.25,3.25 0 0 1 3.25,-80.95L2.45,-60.35A2.45,2.45 0 0 1 -2.45,-60.35Z" fill="url(#gkA)" stroke="#960c7c" stroke-width="0.8"/><path d="M-3.25,-80.95A3.25,3.25 0 0 1 3.25,-80.95L2.45,-60.35A2.45,2.45 0 0 1 -2.45,-60.35Z" fill="url(#ov)"/></g>
<g transform="rotate(120.00)"><path d="M-3.25,-80.95A3.25,3.25 0 0 1 3.25,-80.95L2.45,-60.35A2.45,2.45 0 0 1 -2.45,-60.35Z" fill="url(#gkA)" stroke="#960c7c" stroke-width="0.8"/><path d="M-3.25,-80.95A3.25,3.25 0 0 1 3.25,-80.95L2.45,-60.35A2.45,2.45 0 0 1 -2.45,-60.35Z" fill="url(#ov)"/></g>
<g transform="rotate(125.00)"><path d="M-3.25,-80.95A3.25,3.25 0 0 1 3.25,-80.95L2.45,-60.35A2.45,2.45 0 0 1 -2.45,-60.35Z" fill="url(#gkA)" stroke="#960c7c" stroke-width="0.8"/><path d="M-3.25,-80.95A3.25,3.25 0 0 1 3.25,-80.95L2.45,-60.35A2.45,2.45 0 0 1 -2.45,-60.35Z" fill="url(#ov)"/></g>
<g transform="rotate(130.00)"><path d="M-3.25,-80.95A3.25,3.25 0 0 1 3.25,-80.95L2.45,-60.35A2.45,2.45 0 0 1 -2.45,-60.35Z" fill="url(#gkA)" stroke="#960c7c" stroke-width="0.8"/><path d="M-3.25,-80.95A3.25,3.25 0 0 1 3.25,-80.95L2.45,-60.35A2.45,2.45 0 0 1 -2.45,-60.35Z" fill="url(#ov)"/></g>
<g transform="rotate(135.00)"><path d="M-3.25,-80.95A3.25,3.25 0 0 1 3.25,-80.95L2.45,-60.35A2.45,2.45 0 0 1 -2.45,-60.35Z" fill="url(#gkA)" stroke="#960c7c" stroke-width="0.8"/><path d="M-3.25,-80.95A3.25,3.25 0 0 1 3.25,-80.95L2.45,-60.35A2.45,2.45 0 0 1 -2.45,-60.35Z" fill="url(#ov)"/></g>
<g transform="rotate(140.00)"><path d="M-3.25,-80.95A3.25,3.25 0 0 1 3.25,-80.95L2.45,-60.35A2.45,2.45 0 0 1 -2.45,-60.35Z" fill="url(#gkA)" stroke="#960c7c" stroke-width="0.8"/><path d="M-3.25,-80.95A3.25,3.25 0 0 1 3.25,-80.95L2.45,-60.35A2.45,2.45 0 0 1 -2.45,-60.35Z" fill="url(#ov)"/></g>
<g transform="rotate(145.00)"><path d="M-3.25,-80.95A3.25,3.25 0 0 1 3.25,-80.95L2.45,-60.35A2.45,2.45 0 0 1 -2.45,-60.35Z" fill="url(#gkB)" stroke="#960c7c" stroke-width="0.8"/><path d="M-3.25,-80.95A3.25,3.25 0 0 1 3.25,-80.95L2.45,-60.35A2.45,2.45 0 0 1 -2.45,-60.35Z" fill="url(#ov)"/></g>
<g transform="rotate(150.00)"><path d="M-3.25,-80.95A3.25,3.25 0 0 1 3.25,-80.95L2.45,-60.35A2.45,2.45 0 0 1 -2.45,-60.35Z" fill="url(#gkB)" stroke="#960c7c" stroke-width="0.8"/><path d="M-3.25,-80.95A3.25,3.25 0 0 1 3.25,-80.95L2.45,-60.35A2.45,2.45 0 0 1 -2.45,-60.35Z" fill="url(#ov)"/></g>
<g transform="rotate(155.00)"><path d="M-3.25,-80.95A3.25,3.25 0 0 1 3.25,-80.95L2.45,-60.35A2.45,2.45 0 0 1 -2.45,-60.35Z" fill="url(#gkB)" stroke="#960c7c" stroke-width="0.8"/><path d="M-3.25,-80.95A3.25,3.25 0 0 1 3.25,-80.95L2.45,-60.35A2.45,2.45 0 0 1 -2.45,-60.35Z" fill="url(#ov)"/></g>
<g transform="rotate(160.00)"><path d="M-3.25,-80.95A3.25,3.25 0 0 1 3.25,-80.95L2.45,-60.35A2.45,2.45 0 0 1 -2.45,-60.35Z" fill="url(#gkB)" stroke="#960c7c" stroke-width="0.8"/><path d="M-3.25,-80.95A3.25,3.25 0 0 1 3.25,-80.95L2.45,-60.35A2.45,2.45 0 0 1 -2.45,-60.35Z" fill="url(#ov)"/></g>
<g transform="rotate(165.00)"><path d="M-3.25,-80.95A3.25,3.25 0 0 1 3.25,-80.95L2.45,-60.35A2.45,2.45 0 0 1 -2.45,-60.35Z" fill="url(#gkB)" stroke="#960c7c" stroke-width="0.8"/><path d="M-3.25,-80.95A3.25,3.25 0 0 1 3.25,-80.95L2.45,-60.35A2.45,2.45 0 0 1 -2.45,-60.35Z" fill="url(#ov)"/></g>
<g transform="rotate(170.00)"><path d="M-3.25,-80.95A3.25,3.25 0 0 1 3.25,-80.95L2.45,-60.35A2.45,2.45 0 0 1 -2.45,-60.35Z" fill="url(#gkB)" stroke="#960c7c" stroke-width="0.8"/><path d="M-3.25,-80.95A3.25,3.25 0 0 1 3.25,-80.95L2.45,-60.35A2.45,2.45 0 0 1 -2.45,-60.35Z" fill="url(#ov)"/></g>
<g transform="rotate(175.00)"><path d="M-3.25,-80.95A3.25,3.25 0 0 1 3.25,-80.95L2.45,-60.35A2.45,2.45 0 0 1 -2.45,-60.35Z" fill="url(#gkB)" stroke="#960c7c" stroke-width="0.8"/><path d="M-3.25,-80.95A3.25,3.25 0 0 1 3.25,-80.95L2.45,-60.35A2.45,2.45 0 0 1 -2.45,-60.35Z" fill="url(#ov)"/></g>
<g transform="rotate(180.00)"><path d="M-3.25,-80.95A3.25,3.25 0 0 1 3.25,-80.95L2.45,-60.35A2.45,2.45 0 0 1 -2.45,-60.35Z" fill="url(#gkB)" stroke="#960c7c" stroke-width="0.8"/><path d="M-3.25,-80.95A3.25,3.25 0 0 1 3.25,-80.95L2.45,-60.35A2.45,2.45 0 0 1 -2.45,-60.35Z" fill="url(#ov)"/></g>
<g transform="rotate(185.00)"><path d="M-3.25,-80.95A3.25,3.25 0 0 1 3.25,-80.95L2.45,-60.35A2.45,2.45 0 0 1 -2.45,-60.35Z" fill="url(#gkB)" stroke="#960c7c" stroke-width="0.8"/><path d="M-3.25,-80.95A3.25,3.25 0 0 1 3.25,-80.95L2.45,-60.35A2.45,2.45 0 0 1 -2.45,-60.35Z" fill="url(#ov)"/></g>
<g transform="rotate(190.00)"><path d="M-3.25,-80.95A3.25,3.25 0 0 1 3.25,-80.95L2.45,-60.35A2.45,2.45 0 0 1 -2.45,-60.35Z" fill="url(#gkB)" stroke="#960c7c" stroke-width="0.8"/><path d="M-3.25,-80.95A3.25,3.25 0 0 1 3.25,-80.95L2.45,-60.35A2.45,2.45 0 0 1 -2.45,-60.35Z" fill="url(#ov)"/></g>
<g transform="rotate(195.00)"><path d="M-3.25,-80.95A3.25,3.25 0 0 1 3.25,-80.95L2.45,-60.35A2.45,2.45 0 0 1 -2.45,-60.35Z" fill="url(#gkB)" stroke="#960c7c" stroke-width="0.8"/><path d="M-3.25,-80.95A3.25,3.25 0 0 1 3.25,-80.95L2.45,-60.35A2.45,2.45 0 0 1 -2.45,-60.35Z" fill="url(#ov)"/></g>
<g transform="rotate(200.00)"><path d="M-3.25,-80.95A3.25,3.25 0 0 1 3.25,-80.95L2.45,-60.35A2.45,2.45 0 0 1 -2.45,-60.35Z" fill="url(#gkB)" stroke="#960c7c" stroke-width="0.8"/><path d="M-3.25,-80.95A3.25,3.25 0 0 1 3.25,-80.95L2.45,-60.35A2.45,2.45 0 0 1 -2.45,-60.35Z" fill="url(#ov)"/></g>
<g transform="rotate(205.00)"><path d="M-3.25,-80.95A3.25,3.25 0 0 1 3.25,-80.95L2.45,-60.35A2.45,2.45 0 0 1 -2.45,-60.35Z" fill="url(#gkB)" stroke="#960c7c" stroke-width="0.8"/><path d="M-3.25,-80.95A3.25,3.25 0 0 1 3.25,-80.95L2.45,-60.35A2.45,2.45 0 0 1 -2.45,-60.35Z" fill="url(#ov)"/></g>
<g transform="rotate(210.00)"><path d="M-3.25,-80.95A3.25,3.25 0 0 1 3.25,-80.95L2.45,-60.35A2.45,2.45 0 0 1 -2.45,-60.35Z" fill="url(#gkB)" stroke="#960c7c" stroke-width="0.8"/><path d="M-3.25,-80.95A3.25,3.25 0 0 1 3.25,-80.95L2.45,-60.35A2.45,2.45 0 0 1 -2.45,-60.35Z" fill="url(#ov)"/></g>
<g transform="rotate(215.00)"><path d="M-3.25,-80.95A3.25,3.25 0 0 1 3.25,-80.95L2.45,-60.35A2.45,2.45 0 0 1 -2.45,-60.35Z" fill="url(#gkB)" stroke="#960c7c" stroke-width="0.8"/><path d="M-3.25,-80.95A3.25,3.25 0 0 1 3.25,-80.95L2.45,-60.35A2.45,2.45 0 0 1 -2.45,-60.35Z" fill="url(#ov)"/></g>
<g transform="rotate(220.00)"><path d="M-3.25,-80.95A3.25,3.25 0 0 1 3.25,-80.95L2.45,-60.35A2.45,2.45 0 0 1 -2.45,-60.35Z" fill="url(#gkB)" stroke="#960c7c" stroke-width="0.8"/><path d="M-3.25,-80.95A3.25,3.25 0 0 1 3.25,-80.95L2.45,-60.35A2.45,2.45 0 0 1 -2.45,-60.35Z" fill="url(#ov)"/></g>
<g transform="rotate(225.00)"><path d="M-3.25,-80.95A3.25,3.25 0 0 1 3.25,-80.95L2.45,-60.35A2.45,2.45 0 0 1 -2.45,-60.35Z" fill="url(#gkB)" stroke="#960c7c" stroke-width="0.8"/><path d="M-3.25,-80.95A3.25,3.25 0 0 1 3.25,-80.95L2.45,-60.35A2.45,2.45 0 0 1 -2.45,-60.35Z" fill="url(#ov)"/></g>
<g transform="rotate(230.00)"><path d="M-3.25,-80.95A3.25,3.25 0 0 1 3.25,-80.95L2.45,-60.35A2.45,2.45 0 0 1 -2.45,-60.35Z" fill="url(#gkB)" stroke="#960c7c" stroke-width="0.8"/><path d="M-3.25,-80.95A3.25,3.25 0 0 1 3.25,-80.95L2.45,-60.35A2.45,2.45 0 0 1 -2.45,-60.35Z" fill="url(#ov)"/></g>
<g transform="rotate(235.00)"><path d="M-3.25,-80.95A3.25,3.25 0 0 1 3.25,-80.95L2.45,-60.35A2.45,2.45 0 0 1 -2.45,-60.35Z" fill="url(#gkB)" stroke="#960c7c" stroke-width="0.8"/><path d="M-3.25,-80.95A3.25,3.25 0 0 1 3.25,-80.95L2.45,-60.35A2.45,2.45 0 0 1 -2.45,-60.35Z" fill="url(#ov)"/></g>
<g transform="rotate(240.00)"><path d="M-3.25,-80.95A3.25,3.25 0 0 1 3.25,-80.95L2.45,-60.35A2.45,2.45 0 0 1 -2.45,-60.35Z" fill="url(#gkB)" stroke="#960c7c" stroke-width="0.8"/><path d="M-3.25,-80.95A3.25,3.25 0 0 1 3.25,-80.95L2.45,-60.35A2.45,2.45 0 0 1 -2.45,-60.35Z" fill="url(#ov)"/></g>
<g transform="rotate(245.00)"><path d="M-3.25,-80.95A3.25,3.25 0 0 1 3.25,-80.95L2.45,-60.35A2.45,2.45 0 0 1 -2.45,-60.35Z" fill="url(#gkB)" stroke="#960c7c" stroke-width="0.8"/><path d="M-3.25,-80.95A3.25,3.25 0 0 1 3.25,-80.95L2.45,-60.35A2.45,2.45 0 0 1 -2.45,-60.35Z" fill="url(#ov)"/></g>
<g transform="rotate(250.00)"><path d="M-3.25,-80.95A3.25,3.25 0 0 1 3.25,-80.95L2.45,-60.35A2.45,2.45 0 0 1 -2.45,-60.35Z" fill="url(#gkB)" stroke="#960c7c" stroke-width="0.8"/><path d="M-3.25,-80.95A3.25,3.25 0 0 1 3.25,-80.95L2.45,-60.35A2.45,2.45 0 0 1 -2.45,-60.35Z" fill="url(#ov)"/></g>
<g transform="rotate(255.00)"><path d="M-3.25,-80.95A3.25,3.25 0 0 1 3.25,-80.95L2.45,-60.35A2.45,2.45 0 0 1 -2.45,-60.35Z" fill="url(#gkB)" stroke="#960c7c" stroke-width="0.8"/><path d="M-3.25,-80.95A3.25,3.25 0 0 1 3.25,-80.95L2.45,-60.35A2.45,2.45 0 0 1 -2.45,-60.35Z" fill="url(#ov)"/></g>
<g transform="rotate(260.00)"><path d="M-3.25,-80.95A3.25,3.25 0 0 1 3.25,-80.95L2.45,-60.35A2.45,2.45 0 0 1 -2.45,-60.35Z" fill="url(#gkB)" stroke="#960c7c" stroke-width="0.8"/><path d="M-3.25,-80.95A3.25,3.25 0 0 1 3.25,-80.95L2.45,-60.35A2.45,2.45 0 0 1 -2.45,-60.35Z" fill="url(#ov)"/></g>
<g transform="rotate(265.00)"><path d="M-3.25,-80.95A3.25,3.25 0 0 1 3.25,-80.95L2.45,-60.35A2.45,2.45 0 0 1 -2.45,-60.35Z" fill="url(#gkB)" stroke="#960c7c" stroke-width="0.8"/><path d="M-3.25,-80.95A3.25,3.25 0 0 1 3.25,-80.95L2.45,-60.35A2.45,2.45 0 0 1 -2.45,-60.35Z" fill="url(#ov)"/></g>
<g transform="rotate(270.00)"><path d="M-3.25,-80.95A3.25,3.25 0 0 1 3.25,-80.95L2.45,-60.35A2.45,2.45 0 0 1 -2.45,-60.35Z" fill="url(#gkB)" stroke="#960c7c" stroke-width="0.8"/><path d="M-3.25,-80.95A3.25,3.25 0 0 1 3.25,-80.95L2.45,-60.35A2.45,2.45 0 0 1 -2.45,-60.35Z" fill="url(#ov)"/></g>
<g transform="rotate(275.00)"><path d="M-3.25,-80.95A3.25,3.25 0 0 1 3.25,-80.95L2.45,-60.35A2.45,2.45 0 0 1 -2.45,-60.35Z" fill="url(#gkB)" stroke="#960c7c" stroke-width="0.8"/><path d="M-3.25,-80.95A3.25,3.25 0 0 1 3.25,-80.95L2.45,-60.35A2.45,2.45 0 0 1 -2.45,-60.35Z" fill="url(#ov)"/></g>
<g transform="rotate(280.00)"><path d="M-3.25,-80.95A3.25,3.25 0 0 1 3.25,-80.95L2.45,-60.35A2.45,2.45 0 0 1 -2.45,-60.35Z" fill="url(#gkB)" stroke="#960c7c" stroke-width="0.8"/><path d="M-3.25,-80.95A3.25,3.25 0 0 1 3.25,-80.95L2.45,-60.35A2.45,2.45 0 0 1 -2.45,-60.35Z" fill="url(#ov)"/></g>
<g transform="rotate(285.00)"><path d="M-3.25,-80.95A3.25,3.25 0 0 1 3.25,-80.95L2.45,-60.35A2.45,2.45 0 0 1 -2.45,-60.35Z" fill="url(#gkB)" stroke="#960c7c" stroke-width="0.8"/><path d="M-3.25,-80.95A3.25,3.25 0 0 1 3.25,-80.95L2.45,-60.35A2.45,2.45 0 0 1 -2.45,-60.35Z" fill="url(#ov)"/></g>
<g transform="rotate(290.00)"><path d="M-3.25,-80.95A3.25,3.25 0 0 1 3.25,-80.95L2.45,-60.35A2.45,2.45 0 0 1 -2.45,-60.35Z" fill="url(#gkB)" stroke="#960c7c" stroke-width="0.8"/><path d="M-3.25,-80.95A3.25,3.25 0 0 1 3.25,-80.95L2.45,-60.35A2.45,2.45 0 0 1 -2.45,-60.35Z" fill="url(#ov)"/></g>
<g transform="rotate(295.00)"><path d="M-3.25,-80.95A3.25,3.25 0 0 1 3.25,-80.95L2.45,-60.35A2.45,2.45 0 0 1 -2.45,-60.35Z" fill="url(#gkB)" stroke="#960c7c" stroke-width="0.8"/><path d="M-3.25,-80.95A3.25,3.25 0 0 1 3.25,-80.95L2.45,-60.35A2.45,2.45 0 0 1 -2.45,-60.35Z" fill="url(#ov)"/></g>
<g transform="rotate(300.00)"><path d="M-3.25,-80.95A3.25,3.25 0 0 1 3.25,-80.95L2.45,-60.35A2.45,2.45 0 0 1 -2.45,-60.35Z" fill="url(#gkB)" stroke="#960c7c" stroke-width="0.8"/><path d="M-3.25,-80.95A3.25,3.25 0 0 1 3.25,-80.95L2.45,-60.35A2.45,2.45 0 0 1 -2.45,-60.35Z" fill="url(#ov)"/></g>
<g transform="rotate(305.00)"><path d="M-3.25,-80.95A3.25,3.25 0 0 1 3.25,-80.95L2.45,-60.35A2.45,2.45 0 0 1 -2.45,-60.35Z" fill="url(#gkB)" stroke="#960c7c" stroke-width="0.8"/><path d="M-3.25,-80.95A3.25,3.25 0 0 1 3.25,-80.95L2.45,-60.35A2.45,2.45 0 0 1 -2.45,-60.35Z" fill="url(#ov)"/></g>
<g transform="rotate(310.00)"><path d="M-3.25,-80.95A3.25,3.25 0 0 1 3.25,-80.95L2.45,-60.35A2.45,2.45 0 0 1 -2.45,-60.35Z" fill="url(#gkB)" stroke="#960c7c" stroke-width="0.8"/><path d="M-3.25,-80.95A3.25,3.25 0 0 1 3.25,-80.95L2.45,-60.35A2.45,2.45 0 0 1 -2.45,-60.35Z" fill="url(#ov)"/></g>
<g transform="rotate(315.00)"><path d="M-3.25,-80.95A3.25,3.25 0 0 1 3.25,-80.95L2.45,-60.35A2.45,2.45 0 0 1 -2.45,-60.35Z" fill="url(#gkB)" stroke="#960c7c" stroke-width="0.8"/><path d="M-3.25,-80.95A3.25,3.25 0 0 1 3.25,-80.95L2.45,-60.35A2.45,2.45 0 0 1 -2.45,-60.35Z" fill="url(#ov)"/></g>
<g transform="rotate(320.00)"><path d="M-3.25,-80.95A3.25,3.25 0 0 1 3.25,-80.95L2.45,-60.35A2.45,2.45 0 0 1 -2.45,-60.35Z" fill="url(#gkB)" stroke="#960c7c" stroke-width="0.8"/><path d="M-3.25,-80.95A3.25,3.25 0 0 1 3.25,-80.95L2.45,-60.35A2.45,2.45 0 0 1 -2.45,-60.35Z" fill="url(#ov)"/></g>
<g transform="rotate(325.00)"><path d="M-3.25,-80.95A3.25,3.25 0 0 1 3.25,-80.95L2.45,-60.35A2.45,2.45 0 0 1 -2.45,-60.35Z" fill="url(#gkA)" stroke="#960c7c" stroke-width="0.8"/><path d="M-3.25,-80.95A3.25,3.25 0 0 1 3.25,-80.95L2.45,-60.35A2.45,2.45 0 0 1 -2.45,-60.35Z" fill="url(#ov)"/></g>
<g transform="rotate(330.00)"><path d="M-3.25,-80.95A3.25,3.25 0 0 1 3.25,-80.95L2.45,-60.35A2.45,2.45 0 0 1 -2.45,-60.35Z" fill="url(#gkA)" stroke="#960c7c" stroke-width="0.8"/><path d="M-3.25,-80.95A3.25,3.25 0 0 1 3.25,-80.95L2.45,-60.35A2.45,2.45 0 0 1 -2.45,-60.35Z" fill="url(#ov)"/></g>
<g transform="rotate(335.00)"><path d="M-3.25,-80.95A3.25,3.25 0 0 1 3.25,-80.95L2.45,-60.35A2.45,2.45 0 0 1 -2.45,-60.35Z" fill="url(#gkA)" stroke="#960c7c" stroke-width="0.8"/><path d="M-3.25,-80.95A3.25,3.25 0 0 1 3.25,-80.95L2.45,-60.35A2.45,2.45 0 0 1 -2.45,-60.35Z" fill="url(#ov)"/></g>
<g transform="rotate(340.00)"><path d="M-3.25,-80.95A3.25,3.25 0 0 1 3.25,-80.95L2.45,-60.35A2.45,2.45 0 0 1 -2.45,-60.35Z" fill="url(#gkA)" stroke="#960c7c" stroke-width="0.8"/><path d="M-3.25,-80.95A3.25,3.25 0 0 1 3.25,-80.95L2.45,-60.35A2.45,2.45 0 0 1 -2.45,-60.35Z" fill="url(#ov)"/></g>
<g transform="rotate(345.00)"><path d="M-3.25,-80.95A3.25,3.25 0 0 1 3.25,-80.95L2.45,-60.35A2.45,2.45 0 0 1 -2.45,-60.35Z" fill="url(#gkA)" stroke="#960c7c" stroke-width="0.8"/><path d="M-3.25,-80.95A3.25,3.25 0 0 1 3.25,-80.95L2.45,-60.35A2.45,2.45 0 0 1 -2.45,-60.35Z" fill="url(#ov)"/></g>
<g transform="rotate(350.00)"><path d="M-3.25,-80.95A3.25,3.25 0 0 1 3.25,-80.95L2.45,-60.35A2.45,2.45 0 0 1 -2.45,-60.35Z" fill="url(#gkA)" stroke="#960c7c" stroke-width="0.8"/><path d="M-3.25,-80.95A3.25,3.25 0 0 1 3.25,-80.95L2.45,-60.35A2.45,2.45 0 0 1 -2.45,-60.35Z" fill="url(#ov)"/></g>
<g transform="rotate(355.00)"><path d="M-3.25,-80.95A3.25,3.25 0 0 1 3.25,-80.95L2.45,-60.35A2.45,2.45 0 0 1 -2.45,-60.35Z" fill="url(#gkA)" stroke="#960c7c" stroke-width="0.8"/><path d="M-3.25,-80.95A3.25,3.25 0 0 1 3.25,-80.95L2.45,-60.35A2.45,2.45 0 0 1 -2.45,-60.35Z" fill="url(#ov)"/></g>
</g></g></svg>
<div id="hd" class="t b" style="left:163.90px;top:319.41px;letter-spacing:1.533px;--st:2.594px;--sb:12.594px">ACT<span class="I">I</span>VE <span class="I">I</span>NGRED<span class="I">I</span>ENTS:</div><div id="r1" class="t" style="left:164.20px;top:346.71px;letter-spacing:0.985px;--st:3.297px;--sb:13.997px">C<span class="I">I</span>TRONELLA O<span class="I">I</span>L</div><div id="r2" class="t" style="left:164.20px;top:368.21px;letter-spacing:0.914px;--st:2.797px;--sb:13.497px">GERAN<span class="I">I</span>OL</div><div id="r3" class="t" style="left:164.20px;top:389.41px;letter-spacing:1.255px;--st:2.594px;--sb:13.294px">C<span class="I">I</span>NNAMON O<span class="I">I</span>L</div><div id="r4" class="t" style="left:164.20px;top:411.01px;letter-spacing:0.585px;--st:2.984px;--sb:13.684px">LEMONGRASS O<span class="I">I</span>L</div><div id="r5" class="t" style="left:164.20px;top:432.51px;letter-spacing:0.600px;--st:3.484px;--sb:14.184px">CLOVE O<span class="I">I</span>L</div><div id="r6" class="t" style="left:164.20px;top:453.81px;letter-spacing:0.677px;--st:3.188px;--sb:13.887px">PEPPERM<span class="I">I</span>NT O<span class="I">I</span>L</div><div id="p1" class="t b" style="right:175.10px;top:346.71px;letter-spacing:1.067px;margin-right:-1.07px">8.0%</div><div id="p2" class="t b" style="right:175.10px;top:368.21px;letter-spacing:1.067px;margin-right:-1.07px">8.0%</div><div id="p3" class="t b" style="right:175.10px;top:389.41px;letter-spacing:1.067px;margin-right:-1.07px">6.0%</div><div id="p4" class="t b" style="right:175.10px;top:411.01px;letter-spacing:1.067px;margin-right:-1.07px">5.0%</div><div id="p5" class="t b" style="right:175.10px;top:432.51px;letter-spacing:1.067px;margin-right:-1.07px">2.0%</div><div id="p6" class="t b" style="right:175.10px;top:453.81px;letter-spacing:1.067px;margin-right:-1.07px">1.0%</div><div id="in" class="t b" style="left:164.80px;top:482.61px;letter-spacing:1.689px;--st:3.391px;--sb:13.391px"><span class="I">I</span>NERT <span class="I">I</span>NGRED<span class="I">I</span>ENTS**</div><div id="pi" class="t b" style="right:175.40px;top:482.61px;letter-spacing:1.650px;margin-right:-1.65px">70.0%</div><div id="to" class="t" style="left:164.10px;top:505.61px;letter-spacing:0.000px">TOTAL</div><div id="pt" class="t b" style="right:175.40px;top:505.61px;letter-spacing:1.280px;margin-right:-1.28px">100.0%</div><div id="f1" class="t" style="left:164.40px;top:529.61px;letter-spacing:0.883px;--st:3.391px;--sb:14.091px">**Polyethylene, Zinc <span class="I">I</span>ron Oxide, Zinc</div><div id="f2" class="t" style="left:164.40px;top:550.91px;letter-spacing:0.958px">Oxide, Zinc Stearate, Ultramarine Blue,</div><div id="f3" class="t" style="left:164.40px;top:572.61px;letter-spacing:1.075px">Calcium Carbonate</div><div class="ld" style="left:313.7px;width:142.1px;top:353.8px"></div><div class="ld" style="left:263.0px;width:192.8px;top:375.3px"></div><div class="ld" style="left:306.0px;width:149.8px;top:396.5px"></div><div class="ld" style="left:324.3px;width:131.5px;top:418.1px"></div><div class="ld" style="left:264.9px;width:190.9px;top:439.6px"></div><div class="ld" style="left:318.5px;width:137.3px;top:460.9px"></div><div class="ld" style="left:384.1px;width:62.4px;top:489.4px"></div><div class="ld" style="left:225.4px;width:208.8px;top:509.9px"></div>
</body></html>
